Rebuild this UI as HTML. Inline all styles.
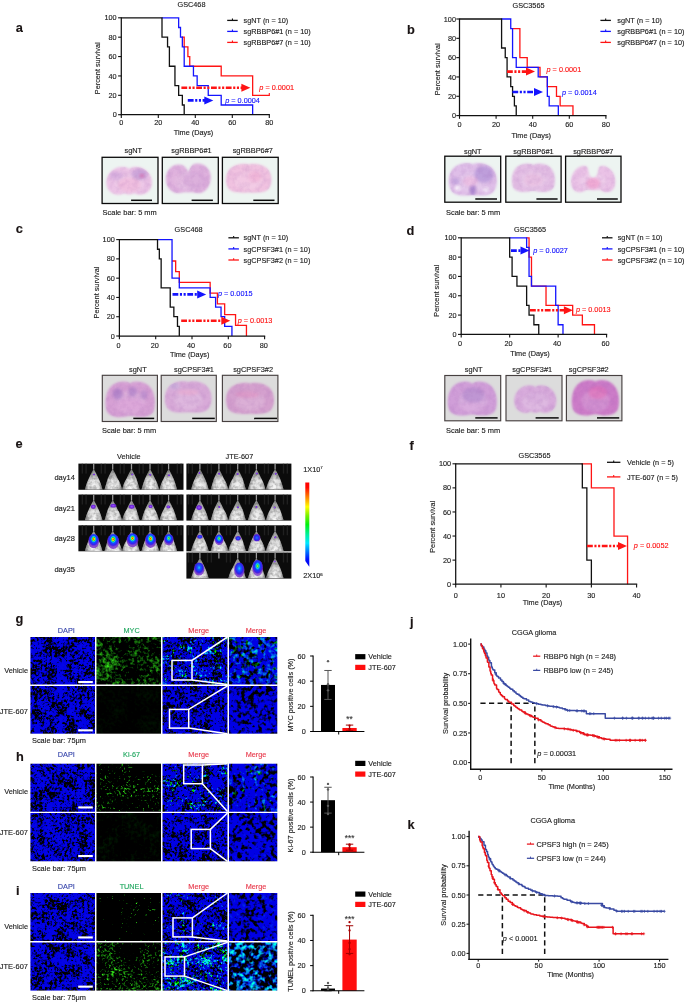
<!DOCTYPE html>
<html lang="en"><head><meta charset="utf-8"><title>Figure</title>
<style>
html,body{margin:0;padding:0;background:#fff;}
body{width:685px;height:1004px;overflow:hidden;}
svg{display:block;font-family:"Liberation Sans", sans-serif;}
text{stroke-width:0.13px;}
</style></head><body>
<svg width="685" height="1004" viewBox="0 0 685 1004">
<defs>
<filter id="bblur" x="-10%" y="-10%" width="120%" height="120%"><feGaussianBlur stdDeviation="0.8"/></filter>
<filter id="bblur2" x="-30%" y="-30%" width="160%" height="160%"><feGaussianBlur stdDeviation="1.4"/></filter>
<filter id="btex" x="0" y="0" width="1" height="1" color-interpolation-filters="sRGB">
 <feTurbulence type="fractalNoise" baseFrequency="0.18" numOctaves="3" seed="4"/>
 <feColorMatrix type="matrix" values="0 0 0 0 0.55  0 0 0 0 0.3  0 0 0 0 0.65  1.6 0 0 0 -0.62" result="t"/>
 <feComposite in="t" in2="SourceGraphic" operator="in"/>
</filter>
<clipPath id="bc1"><path d="M129.20,169.20 C130.13,166.25 139.66,165.07 146.40,170.38 C152.45,175.10 153.84,184.69 149.66,190.15 C146.40,194.57 138.96,195.75 135.24,193.69 C132.92,192.50 131.06,195.46 129.20,194.28 C127.34,195.46 125.48,192.50 123.15,193.69 C119.43,195.75 111.99,194.57 108.74,190.15 C104.55,184.69 105.95,175.10 111.99,170.38 C118.74,165.07 128.27,166.25 129.20,169.20Z"/></clipPath>
<clipPath id="bc2"><path d="M188.30,172.22 C189.65,169.48 190.55,163.70 196.85,163.40 C205.85,163.10 211.25,170.24 210.80,177.84 C210.35,185.44 207.43,190.76 201.80,192.74 C197.30,194.10 192.80,191.67 188.30,192.58 C183.80,191.67 179.30,194.10 174.80,192.74 C169.18,190.76 166.25,186.20 165.80,179.36 C165.35,172.52 170.30,164.62 178.85,164.62 C185.15,164.62 186.95,169.48 188.30,172.22Z"/></clipPath>
<clipPath id="bc3"><path d="M248.70,164.50 C249.86,163.60 260.30,162.70 266.80,168.10 C272.36,172.90 273.06,183.10 268.65,189.10 C264.94,193.30 255.66,192.85 248.70,192.40 C241.74,192.85 232.46,193.30 228.75,189.10 C224.34,183.10 225.04,172.90 230.60,168.10 C237.10,162.70 247.54,163.60 248.70,164.50Z"/></clipPath>
<clipPath id="bc4"><path d="M472.80,164.30 C474.03,162.60 485.05,161.58 491.91,167.70 C497.79,173.14 498.53,184.70 493.87,191.50 C489.95,196.26 480.15,195.75 472.80,195.24 C465.45,195.75 455.65,196.26 451.73,191.50 C447.07,184.70 447.81,173.14 453.69,167.70 C460.55,161.58 471.57,162.60 472.80,164.30Z"/></clipPath>
<clipPath id="bc5"><path d="M533.40,165.12 C534.49,163.05 543.19,162.17 549.06,166.30 C554.72,170.43 556.02,179.28 554.28,185.91 C552.98,191.08 546.45,192.26 539.92,191.81 C536.66,191.52 535.14,190.49 533.40,191.08 C531.66,190.49 530.14,191.52 526.88,191.81 C520.35,192.26 513.82,191.08 512.52,185.91 C510.78,179.28 512.08,170.43 517.74,166.30 C523.61,162.17 532.31,163.05 533.40,165.12Z"/></clipPath>
<clipPath id="bc6"><path d="M593.20,177.55 C597.70,177.55 597.70,171.64 598.60,167.92 C599.95,164.35 607.15,165.45 611.65,170.67 C615.70,175.07 616.83,184.01 613.45,189.10 C610.75,192.95 604.45,192.95 601.75,190.75 C599.95,189.38 595.90,190.75 593.20,190.20 C590.50,190.75 586.45,189.38 584.65,190.75 C581.95,192.95 575.65,192.95 572.95,189.10 C569.58,184.01 570.70,175.07 574.75,170.67 C579.25,165.45 586.45,164.35 587.80,167.92 C588.70,171.64 588.70,177.55 593.20,177.55Z"/></clipPath>
<clipPath id="bc7"><path d="M130.20,383.59 C131.44,381.00 141.41,379.89 148.13,385.07 C154.60,390.25 156.10,401.35 154.10,409.68 C152.61,416.15 145.14,417.63 137.67,417.07 C133.94,416.70 132.19,415.41 130.20,416.15 C128.21,415.41 126.46,416.70 122.73,417.07 C115.26,417.63 107.79,416.15 106.30,409.68 C104.30,401.35 105.80,390.25 112.27,385.07 C118.99,379.89 128.95,381.00 130.20,383.59Z"/></clipPath>
<clipPath id="bc8"><path d="M188.20,382.30 C189.39,381.00 200.10,380.02 206.76,385.89 C212.48,391.11 213.19,402.19 208.67,408.71 C204.86,413.27 195.34,412.79 188.20,412.30 C181.06,412.79 171.54,413.27 167.73,408.71 C163.21,402.19 163.92,391.11 169.64,385.89 C176.30,380.02 187.01,381.00 188.20,382.30Z"/></clipPath>
<clipPath id="bc9"><path d="M250.00,383.38 C251.22,382.40 262.23,381.42 269.07,387.29 C274.94,392.51 275.67,403.59 271.03,410.11 C267.12,414.67 257.33,414.19 250.00,413.70 C242.66,414.19 232.88,414.67 228.97,410.11 C224.33,403.59 225.06,392.51 230.93,387.29 C237.78,381.42 248.78,382.40 250.00,383.38Z"/></clipPath>
<clipPath id="bc10"><path d="M472.30,383.83 C473.54,381.00 483.42,379.94 490.08,384.89 C496.51,389.85 497.99,400.47 496.01,408.44 C494.53,414.63 487.12,416.05 479.71,415.51 C476.00,415.16 474.28,413.92 472.30,414.63 C470.32,413.92 468.60,415.16 464.89,415.51 C457.48,416.05 450.07,414.63 448.59,408.44 C446.61,400.47 448.09,389.85 454.52,384.89 C461.19,379.94 471.06,381.00 472.30,383.83Z"/></clipPath>
<clipPath id="bc11"><path d="M535.30,387.32 C536.16,385.00 544.97,383.84 551.21,389.06 C556.80,393.70 558.09,403.12 554.22,408.49 C551.21,412.84 544.33,414.00 540.89,411.97 C538.74,410.81 537.02,413.71 535.30,412.55 C533.58,413.71 531.86,410.81 529.71,411.97 C526.27,414.00 519.39,412.84 516.38,408.49 C512.51,403.12 513.80,393.70 519.39,389.06 C525.62,383.84 534.44,385.00 535.30,387.32Z"/></clipPath>
<clipPath id="bc12"><path d="M595.40,381.85 C596.59,379.65 606.09,378.55 612.50,383.69 C618.67,388.82 620.10,399.83 618.20,408.09 C616.77,414.51 609.65,415.98 602.52,415.43 C598.96,415.07 597.30,413.78 595.40,414.51 C593.50,413.78 591.84,415.07 588.27,415.43 C581.15,415.98 574.02,414.51 572.60,408.09 C570.70,399.83 572.12,388.82 578.30,383.69 C584.71,378.55 594.21,379.65 595.40,381.85Z"/></clipPath>
<filter id="mblur" x="-20%" y="-20%" width="140%" height="140%"><feGaussianBlur stdDeviation="0.5"/></filter>
<filter id="sblur" x="-30%" y="-30%" width="160%" height="160%"><feGaussianBlur stdDeviation="0.5"/></filter>
<filter id="mtex" x="0" y="0" width="1" height="1" color-interpolation-filters="sRGB">
 <feTurbulence type="fractalNoise" baseFrequency="0.3" numOctaves="2" seed="7"/>
 <feColorMatrix type="matrix" values="0 0 0 0 0  0 0 0 0 0  0 0 0 0 0  2.6 0 0 0 -1.0" result="t"/>
 <feComposite in="t" in2="SourceGraphic" operator="in"/>
</filter>
<linearGradient id="mg" x1="0" y1="0" x2="0" y2="1">
 <stop offset="0" stop-color="#868686"/><stop offset="0.3" stop-color="#b4b4b4"/><stop offset="0.55" stop-color="#ececec"/><stop offset="1" stop-color="#fbfbfb"/>
</linearGradient>
<linearGradient id="mg2" x1="0" y1="0" x2="1" y2="0">
 <stop offset="0" stop-color="#000" stop-opacity="0.5"/><stop offset="0.22" stop-color="#000" stop-opacity="0.1"/><stop offset="0.5" stop-color="#000" stop-opacity="0"/><stop offset="0.8" stop-color="#000" stop-opacity="0.1"/><stop offset="1" stop-color="#000" stop-opacity="0.5"/>
</linearGradient>
<radialGradient id="sigP"><stop offset="0" stop-color="#9a50ff"/><stop offset="0.7" stop-color="#6a22d8"/><stop offset="1" stop-color="#5a1cc0" stop-opacity="0.6"/></radialGradient>
<radialGradient id="sigB"><stop offset="0" stop-color="#2a6cff"/><stop offset="0.55" stop-color="#2030f0"/><stop offset="0.85" stop-color="#5a20d8"/><stop offset="1" stop-color="#6a22c8" stop-opacity="0.7"/></radialGradient>
<radialGradient id="sigR" cx="0.5" cy="0.36"><stop offset="0" stop-color="#ff2a00"/><stop offset="0.1" stop-color="#ff9000"/><stop offset="0.17" stop-color="#e8e000"/><stop offset="0.26" stop-color="#30e030"/><stop offset="0.36" stop-color="#10c8f0"/><stop offset="0.5" stop-color="#1050ff"/><stop offset="0.78" stop-color="#3a20f0"/><stop offset="1" stop-color="#7028c8" stop-opacity="0.8"/></radialGradient>
<radialGradient id="sigG" cx="0.5" cy="0.38"><stop offset="0" stop-color="#d8f020"/><stop offset="0.14" stop-color="#30e040"/><stop offset="0.3" stop-color="#10c8f0"/><stop offset="0.5" stop-color="#1040ff"/><stop offset="0.85" stop-color="#4a20e0"/><stop offset="1" stop-color="#7028c8" stop-opacity="0.75"/></radialGradient>
<radialGradient id="sigC" cx="0.5" cy="0.4"><stop offset="0" stop-color="#20d0f0"/><stop offset="0.3" stop-color="#1060ff"/><stop offset="0.7" stop-color="#3020e8"/><stop offset="1" stop-color="#7028c8" stop-opacity="0.8"/></radialGradient>
<linearGradient id="cbar" x1="0" y1="0" x2="0" y2="1">
 <stop offset="0" stop-color="#ff0000"/><stop offset="0.06" stop-color="#ff0800"/><stop offset="0.18" stop-color="#ff8800"/><stop offset="0.29" stop-color="#ffff00"/><stop offset="0.4" stop-color="#70f000"/><stop offset="0.5" stop-color="#00f010"/><stop offset="0.62" stop-color="#00f0a0"/><stop offset="0.72" stop-color="#00e8ff"/><stop offset="0.82" stop-color="#0078ff"/><stop offset="0.91" stop-color="#0010ff"/><stop offset="1" stop-color="#0000e8"/>
</linearGradient>
<clipPath id="mr1"><rect x="78.40" y="463.60" width="105.10" height="26.20"/></clipPath>
<clipPath id="mr2"><rect x="186.40" y="463.60" width="105.00" height="26.20"/></clipPath>
<clipPath id="mr3"><rect x="78.40" y="494.50" width="105.10" height="26.10"/></clipPath>
<clipPath id="mr4"><rect x="186.40" y="494.50" width="105.00" height="26.10"/></clipPath>
<clipPath id="mr5"><rect x="78.40" y="525.30" width="105.10" height="26.00"/></clipPath>
<clipPath id="mr6"><rect x="186.40" y="525.30" width="105.00" height="26.00"/></clipPath>
<clipPath id="mr7"><rect x="186.40" y="552.50" width="105.00" height="26.10"/></clipPath>
<filter id="fl1" x="0" y="0" width="1" height="1" color-interpolation-filters="sRGB">
<feTurbulence type="fractalNoise" baseFrequency="0.32" numOctaves="2" seed="101"/><feColorMatrix type="matrix" values="1 0 0 0 0 0 1 0 0 0 0 0 1 0 0 0 0 0 0 1" result="n"/>
<feTurbulence type="fractalNoise" baseFrequency="0.05" numOctaves="2" seed="151"/><feColorMatrix type="matrix" values="1 0 0 0 0 0 1 0 0 0 0 0 1 0 0 0 0 0 0 1" result="m"/>
<feComposite in="n" in2="m" operator="arithmetic" k1="0" k2="1" k3="0.8" k4="-0.4" result="c"/>
<feColorMatrix in="c" type="matrix" values="0 0.4 0 0 -0.19499999999999998  0 1.6 0 0 -0.7  0 0.192 0 0 -0.08399999999999999  0 0 0 0 1"/><feComponentTransfer><feFuncB type="linear" slope="0.9"/></feComponentTransfer></filter>
<filter id="fl2" x="0" y="0" width="1" height="1" color-interpolation-filters="sRGB">
<feTurbulence type="fractalNoise" baseFrequency="0.32" numOctaves="2" seed="102"/><feColorMatrix type="matrix" values="1 0 0 0 0 0 1 0 0 0 0 0 1 0 0 0 0 0 0 1" result="n"/>
<feTurbulence type="fractalNoise" baseFrequency="0.05" numOctaves="2" seed="152"/><feColorMatrix type="matrix" values="1 0 0 0 0 0 1 0 0 0 0 0 1 0 0 0 0 0 0 1" result="m"/>
<feComposite in="n" in2="m" operator="arithmetic" k1="0" k2="1" k3="0.8" k4="-0.4" result="c"/>
<feColorMatrix in="c" type="matrix" values="0 0.03 0 0 -0.0325  0 0.12 0 0 -0.05  0 0.0144 0 0 -0.006  0 0 0 0 1"/><feComponentTransfer><feFuncB type="linear" slope="0.9"/></feComponentTransfer></filter>
<filter id="fl3" x="0" y="0" width="1" height="1" color-interpolation-filters="sRGB">
<feTurbulence type="fractalNoise" baseFrequency="0.4" numOctaves="2" seed="103"/><feColorMatrix type="matrix" values="1 0 0 0 0 0 1 0 0 0 0 0 1 0 0 0 0 0 0 1" result="n"/>
<feTurbulence type="fractalNoise" baseFrequency="0.09" numOctaves="2" seed="153"/><feColorMatrix type="matrix" values="1 0 0 0 0 0 1 0 0 0 0 0 1 0 0 0 0 0 0 1" result="m"/>
<feComposite in="n" in2="m" operator="arithmetic" k1="0" k2="1" k3="0.7" k4="-0.35" result="c"/>
<feColorMatrix in="c" type="matrix" values="0 0 0 0 0  0.15 3.2 0 0 -1.97  4.5 0 0 0 -1.45  0 0 0 0 1"/><feComponentTransfer><feFuncB type="linear" slope="0.9"/></feComponentTransfer></filter>
<filter id="fl4" x="0" y="0" width="1" height="1" color-interpolation-filters="sRGB">
<feTurbulence type="fractalNoise" baseFrequency="0.4" numOctaves="2" seed="104"/><feColorMatrix type="matrix" values="1 0 0 0 0 0 1 0 0 0 0 0 1 0 0 0 0 0 0 1" result="n"/>
<feTurbulence type="fractalNoise" baseFrequency="0.09" numOctaves="2" seed="154"/><feColorMatrix type="matrix" values="1 0 0 0 0 0 1 0 0 0 0 0 1 0 0 0 0 0 0 1" result="m"/>
<feComposite in="n" in2="m" operator="arithmetic" k1="0" k2="1" k3="0.7" k4="-0.35" result="c"/>
<feColorMatrix in="c" type="matrix" values="0 0 0 0 0  0.15 0.2 0 0 -0.27  4.5 0 0 0 -1.45  0 0 0 0 1"/><feComponentTransfer><feFuncB type="linear" slope="0.9"/></feComponentTransfer></filter>
<filter id="fl5" x="0" y="0" width="1" height="1" color-interpolation-filters="sRGB">
<feTurbulence type="fractalNoise" baseFrequency="0.24" numOctaves="2" seed="105"/><feColorMatrix type="matrix" values="1 0 0 0 0 0 1 0 0 0 0 0 1 0 0 0 0 0 0 1" result="n"/>
<feTurbulence type="fractalNoise" baseFrequency="0.05" numOctaves="2" seed="155"/><feColorMatrix type="matrix" values="1 0 0 0 0 0 1 0 0 0 0 0 1 0 0 0 0 0 0 1" result="m"/>
<feComposite in="n" in2="m" operator="arithmetic" k1="0" k2="1" k3="0.4" k4="-0.2" result="c"/>
<feColorMatrix in="c" type="matrix" values="0 0 0 0 0  0.3 2.2 0 0 -1.29  4.6 0 0 0 -1.38  0 0 0 0 1"/><feComponentTransfer><feFuncB type="linear" slope="0.9"/></feComponentTransfer></filter>
<filter id="fl6" x="0" y="0" width="1" height="1" color-interpolation-filters="sRGB">
<feTurbulence type="fractalNoise" baseFrequency="0.24" numOctaves="2" seed="106"/><feColorMatrix type="matrix" values="1 0 0 0 0 0 1 0 0 0 0 0 1 0 0 0 0 0 0 1" result="n"/>
<feTurbulence type="fractalNoise" baseFrequency="0.05" numOctaves="2" seed="156"/><feColorMatrix type="matrix" values="1 0 0 0 0 0 1 0 0 0 0 0 1 0 0 0 0 0 0 1" result="m"/>
<feComposite in="n" in2="m" operator="arithmetic" k1="0" k2="1" k3="0.4" k4="-0.2" result="c"/>
<feColorMatrix in="c" type="matrix" values="0 0 0 0 0  0.3 0.2 0 0 -0.34  4.6 0 0 0 -1.38  0 0 0 0 1"/><feComponentTransfer><feFuncB type="linear" slope="0.9"/></feComponentTransfer></filter>
<filter id="fl7" x="0" y="0" width="1" height="1" color-interpolation-filters="sRGB">
<feTurbulence type="fractalNoise" baseFrequency="0.4" numOctaves="2" seed="200"/><feColorMatrix type="matrix" values="1 0 0 0 0 0 1 0 0 0 0 0 1 0 0 0 0 0 0 1" result="n"/>
<feTurbulence type="fractalNoise" baseFrequency="0.09" numOctaves="2" seed="250"/><feColorMatrix type="matrix" values="1 0 0 0 0 0 1 0 0 0 0 0 1 0 0 0 0 0 0 1" result="m"/>
<feComposite in="n" in2="m" operator="arithmetic" k1="0" k2="1" k3="0.7" k4="-0.35" result="c"/>
<feColorMatrix in="c" type="matrix" values="0.06 0 0 0 -0.03  0.06 0 0 0 -0.03  4.5 0 0 0 -1.45  0 0 0 0 1"/><feComponentTransfer><feFuncB type="linear" slope="0.9"/></feComponentTransfer></filter>
<filter id="fl8" x="0" y="0" width="1" height="1" color-interpolation-filters="sRGB">
<feTurbulence type="fractalNoise" baseFrequency="0.4" numOctaves="2" seed="201"/><feColorMatrix type="matrix" values="1 0 0 0 0 0 1 0 0 0 0 0 1 0 0 0 0 0 0 1" result="n"/>
<feTurbulence type="fractalNoise" baseFrequency="0.09" numOctaves="2" seed="251"/><feColorMatrix type="matrix" values="1 0 0 0 0 0 1 0 0 0 0 0 1 0 0 0 0 0 0 1" result="m"/>
<feComposite in="n" in2="m" operator="arithmetic" k1="0" k2="1" k3="0.7" k4="-0.35" result="c"/>
<feColorMatrix in="c" type="matrix" values="0.06 0 0 0 -0.03  0.06 0 0 0 -0.03  4.5 0 0 0 -1.45  0 0 0 0 1"/><feComponentTransfer><feFuncB type="linear" slope="0.9"/></feComponentTransfer></filter>
<filter id="fl9" x="0" y="0" width="1" height="1" color-interpolation-filters="sRGB">
<feTurbulence type="fractalNoise" baseFrequency="0.42" numOctaves="2" seed="111"/><feColorMatrix type="matrix" values="1 0 0 0 0 0 1 0 0 0 0 0 1 0 0 0 0 0 0 1" result="n"/>
<feTurbulence type="fractalNoise" baseFrequency="0.05" numOctaves="2" seed="161"/><feColorMatrix type="matrix" values="1 0 0 0 0 0 1 0 0 0 0 0 1 0 0 0 0 0 0 1" result="m"/>
<feComposite in="n" in2="m" operator="arithmetic" k1="0" k2="1" k3="0.5" k4="-0.25" result="c"/>
<feColorMatrix in="c" type="matrix" values="0 0.75 0 0 -0.495  0 3.0 0 0 -1.9  0 0.36 0 0 -0.22799999999999998  0 0 0 0 1"/><feComponentTransfer><feFuncB type="linear" slope="0.9"/></feComponentTransfer></filter>
<filter id="fl10" x="0" y="0" width="1" height="1" color-interpolation-filters="sRGB">
<feTurbulence type="fractalNoise" baseFrequency="0.32" numOctaves="2" seed="112"/><feColorMatrix type="matrix" values="1 0 0 0 0 0 1 0 0 0 0 0 1 0 0 0 0 0 0 1" result="n"/>
<feTurbulence type="fractalNoise" baseFrequency="0.05" numOctaves="2" seed="162"/><feColorMatrix type="matrix" values="1 0 0 0 0 0 1 0 0 0 0 0 1 0 0 0 0 0 0 1" result="m"/>
<feComposite in="n" in2="m" operator="arithmetic" k1="0" k2="1" k3="0.8" k4="-0.4" result="c"/>
<feColorMatrix in="c" type="matrix" values="0 0.05 0 0 -0.045  0 0.2 0 0 -0.1  0 0.024 0 0 -0.012  0 0 0 0 1"/><feComponentTransfer><feFuncB type="linear" slope="0.9"/></feComponentTransfer></filter>
<filter id="fl11" x="0" y="0" width="1" height="1" color-interpolation-filters="sRGB">
<feTurbulence type="fractalNoise" baseFrequency="0.4" numOctaves="2" seed="113"/><feColorMatrix type="matrix" values="1 0 0 0 0 0 1 0 0 0 0 0 1 0 0 0 0 0 0 1" result="n"/>
<feTurbulence type="fractalNoise" baseFrequency="0.09" numOctaves="2" seed="163"/><feColorMatrix type="matrix" values="1 0 0 0 0 0 1 0 0 0 0 0 1 0 0 0 0 0 0 1" result="m"/>
<feComposite in="n" in2="m" operator="arithmetic" k1="0" k2="1" k3="0.7" k4="-0.35" result="c"/>
<feColorMatrix in="c" type="matrix" values="0 0 0 0 0  0.15 3.5 0 0 -2.32  4.5 0 0 0 -1.45  0 0 0 0 1"/><feComponentTransfer><feFuncB type="linear" slope="0.9"/></feComponentTransfer></filter>
<filter id="fl12" x="0" y="0" width="1" height="1" color-interpolation-filters="sRGB">
<feTurbulence type="fractalNoise" baseFrequency="0.4" numOctaves="2" seed="114"/><feColorMatrix type="matrix" values="1 0 0 0 0 0 1 0 0 0 0 0 1 0 0 0 0 0 0 1" result="n"/>
<feTurbulence type="fractalNoise" baseFrequency="0.09" numOctaves="2" seed="164"/><feColorMatrix type="matrix" values="1 0 0 0 0 0 1 0 0 0 0 0 1 0 0 0 0 0 0 1" result="m"/>
<feComposite in="n" in2="m" operator="arithmetic" k1="0" k2="1" k3="0.7" k4="-0.35" result="c"/>
<feColorMatrix in="c" type="matrix" values="0 0 0 0 0  0.15 0.2 0 0 -0.27  4.5 0 0 0 -1.45  0 0 0 0 1"/><feComponentTransfer><feFuncB type="linear" slope="0.9"/></feComponentTransfer></filter>
<filter id="fl13" x="0" y="0" width="1" height="1" color-interpolation-filters="sRGB">
<feTurbulence type="fractalNoise" baseFrequency="0.24" numOctaves="2" seed="115"/><feColorMatrix type="matrix" values="1 0 0 0 0 0 1 0 0 0 0 0 1 0 0 0 0 0 0 1" result="n"/>
<feTurbulence type="fractalNoise" baseFrequency="0.05" numOctaves="2" seed="165"/><feColorMatrix type="matrix" values="1 0 0 0 0 0 1 0 0 0 0 0 1 0 0 0 0 0 0 1" result="m"/>
<feComposite in="n" in2="m" operator="arithmetic" k1="0" k2="1" k3="0.4" k4="-0.2" result="c"/>
<feColorMatrix in="c" type="matrix" values="0 0 0 0 0  0.3 2.4 0 0 -1.5899999999999999  4.6 0 0 0 -1.38  0 0 0 0 1"/><feComponentTransfer><feFuncB type="linear" slope="0.9"/></feComponentTransfer></filter>
<filter id="fl14" x="0" y="0" width="1" height="1" color-interpolation-filters="sRGB">
<feTurbulence type="fractalNoise" baseFrequency="0.24" numOctaves="2" seed="116"/><feColorMatrix type="matrix" values="1 0 0 0 0 0 1 0 0 0 0 0 1 0 0 0 0 0 0 1" result="n"/>
<feTurbulence type="fractalNoise" baseFrequency="0.05" numOctaves="2" seed="166"/><feColorMatrix type="matrix" values="1 0 0 0 0 0 1 0 0 0 0 0 1 0 0 0 0 0 0 1" result="m"/>
<feComposite in="n" in2="m" operator="arithmetic" k1="0" k2="1" k3="0.4" k4="-0.2" result="c"/>
<feColorMatrix in="c" type="matrix" values="0 0 0 0 0  0.3 0.4 0 0 -0.44  4.6 0 0 0 -1.38  0 0 0 0 1"/><feComponentTransfer><feFuncB type="linear" slope="0.9"/></feComponentTransfer></filter>
<filter id="fl15" x="0" y="0" width="1" height="1" color-interpolation-filters="sRGB">
<feTurbulence type="fractalNoise" baseFrequency="0.4" numOctaves="2" seed="210"/><feColorMatrix type="matrix" values="1 0 0 0 0 0 1 0 0 0 0 0 1 0 0 0 0 0 0 1" result="n"/>
<feTurbulence type="fractalNoise" baseFrequency="0.09" numOctaves="2" seed="260"/><feColorMatrix type="matrix" values="1 0 0 0 0 0 1 0 0 0 0 0 1 0 0 0 0 0 0 1" result="m"/>
<feComposite in="n" in2="m" operator="arithmetic" k1="0" k2="1" k3="0.7" k4="-0.35" result="c"/>
<feColorMatrix in="c" type="matrix" values="0.06 0 0 0 -0.03  0.06 0 0 0 -0.03  4.5 0 0 0 -1.45  0 0 0 0 1"/><feComponentTransfer><feFuncB type="linear" slope="0.9"/></feComponentTransfer></filter>
<filter id="fl16" x="0" y="0" width="1" height="1" color-interpolation-filters="sRGB">
<feTurbulence type="fractalNoise" baseFrequency="0.4" numOctaves="2" seed="211"/><feColorMatrix type="matrix" values="1 0 0 0 0 0 1 0 0 0 0 0 1 0 0 0 0 0 0 1" result="n"/>
<feTurbulence type="fractalNoise" baseFrequency="0.09" numOctaves="2" seed="261"/><feColorMatrix type="matrix" values="1 0 0 0 0 0 1 0 0 0 0 0 1 0 0 0 0 0 0 1" result="m"/>
<feComposite in="n" in2="m" operator="arithmetic" k1="0" k2="1" k3="0.7" k4="-0.35" result="c"/>
<feColorMatrix in="c" type="matrix" values="0.06 0 0 0 -0.03  0.06 0 0 0 -0.03  4.5 0 0 0 -1.45  0 0 0 0 1"/><feComponentTransfer><feFuncB type="linear" slope="0.9"/></feComponentTransfer></filter>
<filter id="fl17" x="0" y="0" width="1" height="1" color-interpolation-filters="sRGB">
<feTurbulence type="fractalNoise" baseFrequency="0.42" numOctaves="2" seed="121"/><feColorMatrix type="matrix" values="1 0 0 0 0 0 1 0 0 0 0 0 1 0 0 0 0 0 0 1" result="n"/>
<feTurbulence type="fractalNoise" baseFrequency="0.05" numOctaves="2" seed="171"/><feColorMatrix type="matrix" values="1 0 0 0 0 0 1 0 0 0 0 0 1 0 0 0 0 0 0 1" result="m"/>
<feComposite in="n" in2="m" operator="arithmetic" k1="0" k2="1" k3="0.3" k4="-0.15" result="c"/>
<feColorMatrix in="c" type="matrix" values="0 1.25 0 0 -0.925  0 5.0 0 0 -3.62  0 0.6 0 0 -0.4344  0 0 0 0 1"/><feComponentTransfer><feFuncB type="linear" slope="0.9"/></feComponentTransfer></filter>
<filter id="fl18" x="0" y="0" width="1" height="1" color-interpolation-filters="sRGB">
<feTurbulence type="fractalNoise" baseFrequency="0.42" numOctaves="2" seed="122"/><feColorMatrix type="matrix" values="1 0 0 0 0 0 1 0 0 0 0 0 1 0 0 0 0 0 0 1" result="n"/>
<feTurbulence type="fractalNoise" baseFrequency="0.05" numOctaves="2" seed="172"/><feColorMatrix type="matrix" values="1 0 0 0 0 0 1 0 0 0 0 0 1 0 0 0 0 0 0 1" result="m"/>
<feComposite in="n" in2="m" operator="arithmetic" k1="0" k2="1" k3="0.6" k4="-0.3" result="c"/>
<feColorMatrix in="c" type="matrix" values="0 0.6 0 0 -0.34500000000000003  0 2.4 0 0 -1.3  0 0.288 0 0 -0.156  0 0 0 0 1"/><feComponentTransfer><feFuncB type="linear" slope="0.9"/></feComponentTransfer></filter>
<filter id="fl19" x="0" y="0" width="1" height="1" color-interpolation-filters="sRGB">
<feTurbulence type="fractalNoise" baseFrequency="0.4" numOctaves="2" seed="123"/><feColorMatrix type="matrix" values="1 0 0 0 0 0 1 0 0 0 0 0 1 0 0 0 0 0 0 1" result="n"/>
<feTurbulence type="fractalNoise" baseFrequency="0.09" numOctaves="2" seed="173"/><feColorMatrix type="matrix" values="1 0 0 0 0 0 1 0 0 0 0 0 1 0 0 0 0 0 0 1" result="m"/>
<feComposite in="n" in2="m" operator="arithmetic" k1="0" k2="1" k3="0.7" k4="-0.35" result="c"/>
<feColorMatrix in="c" type="matrix" values="0 0 0 0 0  0.15 3.5 0 0 -2.52  4.5 0 0 0 -1.45  0 0 0 0 1"/><feComponentTransfer><feFuncB type="linear" slope="0.9"/></feComponentTransfer></filter>
<filter id="fl20" x="0" y="0" width="1" height="1" color-interpolation-filters="sRGB">
<feTurbulence type="fractalNoise" baseFrequency="0.4" numOctaves="2" seed="124"/><feColorMatrix type="matrix" values="1 0 0 0 0 0 1 0 0 0 0 0 1 0 0 0 0 0 0 1" result="n"/>
<feTurbulence type="fractalNoise" baseFrequency="0.09" numOctaves="2" seed="174"/><feColorMatrix type="matrix" values="1 0 0 0 0 0 1 0 0 0 0 0 1 0 0 0 0 0 0 1" result="m"/>
<feComposite in="n" in2="m" operator="arithmetic" k1="0" k2="1" k3="0.7" k4="-0.35" result="c"/>
<feColorMatrix in="c" type="matrix" values="0 0 0 0 0  0.15 3.6 0 0 -2.02  4.5 0 0 0 -1.45  0 0 0 0 1"/><feComponentTransfer><feFuncB type="linear" slope="0.9"/></feComponentTransfer></filter>
<filter id="fl21" x="0" y="0" width="1" height="1" color-interpolation-filters="sRGB">
<feTurbulence type="fractalNoise" baseFrequency="0.24" numOctaves="2" seed="125"/><feColorMatrix type="matrix" values="1 0 0 0 0 0 1 0 0 0 0 0 1 0 0 0 0 0 0 1" result="n"/>
<feTurbulence type="fractalNoise" baseFrequency="0.05" numOctaves="2" seed="175"/><feColorMatrix type="matrix" values="1 0 0 0 0 0 1 0 0 0 0 0 1 0 0 0 0 0 0 1" result="m"/>
<feComposite in="n" in2="m" operator="arithmetic" k1="0" k2="1" k3="0.4" k4="-0.2" result="c"/>
<feColorMatrix in="c" type="matrix" values="0 0 0 0 0  0.3 0.6 0 0 -0.54  4.6 0 0 0 -1.38  0 0 0 0 1"/><feComponentTransfer><feFuncB type="linear" slope="0.9"/></feComponentTransfer></filter>
<filter id="fl22" x="0" y="0" width="1" height="1" color-interpolation-filters="sRGB">
<feTurbulence type="fractalNoise" baseFrequency="0.22" numOctaves="2" seed="126"/><feColorMatrix type="matrix" values="1 0 0 0 0 0 1 0 0 0 0 0 1 0 0 0 0 0 0 1" result="n"/>
<feTurbulence type="fractalNoise" baseFrequency="0.05" numOctaves="2" seed="176"/><feColorMatrix type="matrix" values="1 0 0 0 0 0 1 0 0 0 0 0 1 0 0 0 0 0 0 1" result="m"/>
<feComposite in="n" in2="m" operator="arithmetic" k1="0" k2="1" k3="0.4" k4="-0.2" result="c"/>
<feColorMatrix in="c" type="matrix" values="0 0 0 0 0  3.0 1.2 0 0 -2.02  4.6 0 0 0 -1.75  0 0 0 0 1"/><feComponentTransfer><feFuncB type="linear" slope="0.9"/></feComponentTransfer></filter>
<filter id="fl23" x="0" y="0" width="1" height="1" color-interpolation-filters="sRGB">
<feTurbulence type="fractalNoise" baseFrequency="0.4" numOctaves="2" seed="220"/><feColorMatrix type="matrix" values="1 0 0 0 0 0 1 0 0 0 0 0 1 0 0 0 0 0 0 1" result="n"/>
<feTurbulence type="fractalNoise" baseFrequency="0.09" numOctaves="2" seed="270"/><feColorMatrix type="matrix" values="1 0 0 0 0 0 1 0 0 0 0 0 1 0 0 0 0 0 0 1" result="m"/>
<feComposite in="n" in2="m" operator="arithmetic" k1="0" k2="1" k3="0.7" k4="-0.35" result="c"/>
<feColorMatrix in="c" type="matrix" values="0.06 0 0 0 -0.03  0.06 0 0 0 -0.03  4.5 0 0 0 -1.45  0 0 0 0 1"/><feComponentTransfer><feFuncB type="linear" slope="0.9"/></feComponentTransfer></filter>
<filter id="fl24" x="0" y="0" width="1" height="1" color-interpolation-filters="sRGB">
<feTurbulence type="fractalNoise" baseFrequency="0.4" numOctaves="2" seed="221"/><feColorMatrix type="matrix" values="1 0 0 0 0 0 1 0 0 0 0 0 1 0 0 0 0 0 0 1" result="n"/>
<feTurbulence type="fractalNoise" baseFrequency="0.09" numOctaves="2" seed="271"/><feColorMatrix type="matrix" values="1 0 0 0 0 0 1 0 0 0 0 0 1 0 0 0 0 0 0 1" result="m"/>
<feComposite in="n" in2="m" operator="arithmetic" k1="0" k2="1" k3="0.7" k4="-0.35" result="c"/>
<feColorMatrix in="c" type="matrix" values="0.06 0 0 0 -0.03  0.06 0 0 0 -0.03  4.5 0 0 0 -1.45  0 0 0 0 1"/><feComponentTransfer><feFuncB type="linear" slope="0.9"/></feComponentTransfer></filter>
</defs>
<rect width="685" height="1004" fill="#fff"/>
<text x="15.80" y="32.00" font-size="12.8" font-weight="bold" fill="#1a1414" stroke="#1a1414">a</text>
<path d="M181.80,37.18H184.20V46.87H187.90V56.56H189.75V66.25H221.20V75.94H252.65V95.32H269.30" fill="none" stroke="#ff1414" stroke-width="1.3" stroke-linejoin="miter"/>
<line x1="269.30" y1="93.12" x2="269.30" y2="95.92" stroke="#ff1414" stroke-width="1.1"/>
<path d="M161.63,17.80H178.65V27.49H180.50V37.18H182.35V46.87H184.20V66.25H193.45V75.94H197.15V85.63H208.25V95.32H221.20V105.01H252.65V114.70" fill="none" stroke="#1414ff" stroke-width="1.3" stroke-linejoin="miter"/>
<path d="M121.30,17.80H162.00V37.18H167.55V46.87H169.40V66.25H174.95V85.63H178.65V95.32H182.35V105.01H184.20V114.70" fill="none" stroke="#111" stroke-width="1.3" stroke-linejoin="miter"/>
<line x1="121.30" y1="17.20" x2="121.30" y2="115.30" stroke="#111" stroke-width="1.25"/>
<line x1="120.70" y1="114.70" x2="269.90" y2="114.70" stroke="#111" stroke-width="1.25"/>
<line x1="118.10" y1="114.70" x2="121.30" y2="114.70" stroke="#111" stroke-width="1.1"/>
<text x="116.70" y="117.30" font-size="7.3" text-anchor="end" fill="#1c1c1c" stroke="#1c1c1c">0</text>
<line x1="118.10" y1="95.32" x2="121.30" y2="95.32" stroke="#111" stroke-width="1.1"/>
<text x="116.70" y="97.92" font-size="7.3" text-anchor="end" fill="#1c1c1c" stroke="#1c1c1c">20</text>
<line x1="118.10" y1="75.94" x2="121.30" y2="75.94" stroke="#111" stroke-width="1.1"/>
<text x="116.70" y="78.54" font-size="7.3" text-anchor="end" fill="#1c1c1c" stroke="#1c1c1c">40</text>
<line x1="118.10" y1="56.56" x2="121.30" y2="56.56" stroke="#111" stroke-width="1.1"/>
<text x="116.70" y="59.16" font-size="7.3" text-anchor="end" fill="#1c1c1c" stroke="#1c1c1c">60</text>
<line x1="118.10" y1="37.18" x2="121.30" y2="37.18" stroke="#111" stroke-width="1.1"/>
<text x="116.70" y="39.78" font-size="7.3" text-anchor="end" fill="#1c1c1c" stroke="#1c1c1c">80</text>
<line x1="118.10" y1="17.80" x2="121.30" y2="17.80" stroke="#111" stroke-width="1.1"/>
<text x="116.70" y="20.40" font-size="7.3" text-anchor="end" fill="#1c1c1c" stroke="#1c1c1c">100</text>
<line x1="121.30" y1="114.70" x2="121.30" y2="117.90" stroke="#111" stroke-width="1.1"/>
<text x="121.30" y="124.90" font-size="7.3" text-anchor="middle" fill="#1c1c1c" stroke="#1c1c1c">0</text>
<line x1="158.30" y1="114.70" x2="158.30" y2="117.90" stroke="#111" stroke-width="1.1"/>
<text x="158.30" y="124.90" font-size="7.3" text-anchor="middle" fill="#1c1c1c" stroke="#1c1c1c">20</text>
<line x1="195.30" y1="114.70" x2="195.30" y2="117.90" stroke="#111" stroke-width="1.1"/>
<text x="195.30" y="124.90" font-size="7.3" text-anchor="middle" fill="#1c1c1c" stroke="#1c1c1c">40</text>
<line x1="232.30" y1="114.70" x2="232.30" y2="117.90" stroke="#111" stroke-width="1.1"/>
<text x="232.30" y="124.90" font-size="7.3" text-anchor="middle" fill="#1c1c1c" stroke="#1c1c1c">60</text>
<line x1="269.30" y1="114.70" x2="269.30" y2="117.90" stroke="#111" stroke-width="1.1"/>
<text x="269.30" y="124.90" font-size="7.3" text-anchor="middle" fill="#1c1c1c" stroke="#1c1c1c">80</text>
<text x="191.50" y="6.50" font-size="7.3" text-anchor="middle" fill="#1c1c1c" stroke="#1c1c1c">GSC468</text>
<text x="99.80" y="68.25" font-size="7.3" text-anchor="middle" transform="rotate(-90 99.80 68.25)" fill="#1c1c1c" stroke="#1c1c1c">Percent survival</text>
<text x="193.50" y="134.50" font-size="7.3" text-anchor="middle" fill="#1c1c1c" stroke="#1c1c1c">Time (Days)</text>
<line x1="227.20" y1="20.40" x2="237.70" y2="20.40" stroke="#111" stroke-width="1.3"/>
<line x1="232.45" y1="18.60" x2="232.45" y2="20.40" stroke="#111" stroke-width="1.1"/>
<text x="243.60" y="23.00" font-size="7.3" fill="#1c1c1c" stroke="#1c1c1c">sgNT (n = 10)</text>
<line x1="227.20" y1="31.40" x2="237.70" y2="31.40" stroke="#1414ff" stroke-width="1.3"/>
<line x1="232.45" y1="29.60" x2="232.45" y2="31.40" stroke="#1414ff" stroke-width="1.1"/>
<text x="243.60" y="34.00" font-size="7.3" fill="#1c1c1c" stroke="#1c1c1c">sgRBBP6#1 (n = 10)</text>
<line x1="227.20" y1="42.40" x2="237.70" y2="42.40" stroke="#ff1414" stroke-width="1.3"/>
<line x1="232.45" y1="40.60" x2="232.45" y2="42.40" stroke="#ff1414" stroke-width="1.1"/>
<text x="243.60" y="45.00" font-size="7.3" fill="#1c1c1c" stroke="#1c1c1c">sgRBBP6#7 (n = 10)</text>
<line x1="181.40" y1="87.80" x2="242.40" y2="87.80" stroke="#ff1414" stroke-width="2.6" stroke-dasharray="5.8 1.6 2.1 1.6 2.1 1.6"/>
<path d="M250.40,87.80 L241.40,83.80 L241.40,91.80Z" fill="#ff1414"/>
<text x="259.30" y="90.40" font-size="7.3" fill="#ff1414" stroke="#ff1414"><tspan font-style="italic">p</tspan> = 0.0001</text>
<line x1="187.80" y1="100.40" x2="205.30" y2="100.40" stroke="#1414ff" stroke-width="2.6" stroke-dasharray="5.8 1.6 2.1 1.6 2.1 1.6"/>
<path d="M213.30,100.40 L204.30,96.40 L204.30,104.40Z" fill="#1414ff"/>
<text x="225.20" y="103.20" font-size="7.3" fill="#1414ff" stroke="#1414ff"><tspan font-style="italic">p</tspan> = 0.0004</text>
<text x="406.90" y="34.30" font-size="12.8" font-weight="bold" fill="#1a1414" stroke="#1a1414">b</text>
<path d="M512.02,28.66H519.89V57.64H527.21V67.30H540.02V76.96H547.34V86.62H556.49V96.28H560.15V105.94H572.96V115.60" fill="none" stroke="#ff1414" stroke-width="1.3" stroke-linejoin="miter"/>
<path d="M501.22,19.00H510.74V28.66H512.57V57.64H516.23V67.30H538.19V76.96H547.34V96.28H549.17V105.94H558.32V115.60" fill="none" stroke="#1414ff" stroke-width="1.3" stroke-linejoin="miter"/>
<path d="M459.50,19.00H501.59V47.98H505.25V57.64H507.08V76.96H510.74V86.62H512.57V96.28H514.40V105.94H516.23V115.60" fill="none" stroke="#111" stroke-width="1.3" stroke-linejoin="miter"/>
<line x1="459.50" y1="18.40" x2="459.50" y2="116.20" stroke="#111" stroke-width="1.25"/>
<line x1="458.90" y1="115.60" x2="606.50" y2="115.60" stroke="#111" stroke-width="1.25"/>
<line x1="456.30" y1="115.60" x2="459.50" y2="115.60" stroke="#111" stroke-width="1.1"/>
<text x="456.00" y="118.20" font-size="7.3" text-anchor="end" fill="#1c1c1c" stroke="#1c1c1c">0</text>
<line x1="456.30" y1="96.28" x2="459.50" y2="96.28" stroke="#111" stroke-width="1.1"/>
<text x="456.00" y="98.88" font-size="7.3" text-anchor="end" fill="#1c1c1c" stroke="#1c1c1c">20</text>
<line x1="456.30" y1="76.96" x2="459.50" y2="76.96" stroke="#111" stroke-width="1.1"/>
<text x="456.00" y="79.56" font-size="7.3" text-anchor="end" fill="#1c1c1c" stroke="#1c1c1c">40</text>
<line x1="456.30" y1="57.64" x2="459.50" y2="57.64" stroke="#111" stroke-width="1.1"/>
<text x="456.00" y="60.24" font-size="7.3" text-anchor="end" fill="#1c1c1c" stroke="#1c1c1c">60</text>
<line x1="456.30" y1="38.32" x2="459.50" y2="38.32" stroke="#111" stroke-width="1.1"/>
<text x="456.00" y="40.92" font-size="7.3" text-anchor="end" fill="#1c1c1c" stroke="#1c1c1c">80</text>
<line x1="456.30" y1="19.00" x2="459.50" y2="19.00" stroke="#111" stroke-width="1.1"/>
<text x="456.00" y="21.60" font-size="7.3" text-anchor="end" fill="#1c1c1c" stroke="#1c1c1c">100</text>
<line x1="459.50" y1="115.60" x2="459.50" y2="118.80" stroke="#111" stroke-width="1.1"/>
<text x="459.50" y="127.30" font-size="7.3" text-anchor="middle" fill="#1c1c1c" stroke="#1c1c1c">0</text>
<line x1="496.10" y1="115.60" x2="496.10" y2="118.80" stroke="#111" stroke-width="1.1"/>
<text x="496.10" y="127.30" font-size="7.3" text-anchor="middle" fill="#1c1c1c" stroke="#1c1c1c">20</text>
<line x1="532.70" y1="115.60" x2="532.70" y2="118.80" stroke="#111" stroke-width="1.1"/>
<text x="532.70" y="127.30" font-size="7.3" text-anchor="middle" fill="#1c1c1c" stroke="#1c1c1c">40</text>
<line x1="569.30" y1="115.60" x2="569.30" y2="118.80" stroke="#111" stroke-width="1.1"/>
<text x="569.30" y="127.30" font-size="7.3" text-anchor="middle" fill="#1c1c1c" stroke="#1c1c1c">60</text>
<line x1="605.90" y1="115.60" x2="605.90" y2="118.80" stroke="#111" stroke-width="1.1"/>
<text x="605.90" y="127.30" font-size="7.3" text-anchor="middle" fill="#1c1c1c" stroke="#1c1c1c">80</text>
<text x="528.50" y="7.50" font-size="7.3" text-anchor="middle" fill="#1c1c1c" stroke="#1c1c1c">GSC3565</text>
<text x="439.60" y="69.30" font-size="7.3" text-anchor="middle" transform="rotate(-90 439.60 69.30)" fill="#1c1c1c" stroke="#1c1c1c">Percent survival</text>
<text x="531.30" y="137.50" font-size="7.3" text-anchor="middle" fill="#1c1c1c" stroke="#1c1c1c">Time (Days)</text>
<line x1="600.40" y1="20.40" x2="610.90" y2="20.40" stroke="#111" stroke-width="1.3"/>
<line x1="605.65" y1="18.60" x2="605.65" y2="20.40" stroke="#111" stroke-width="1.1"/>
<text x="617.30" y="23.00" font-size="7.3" fill="#1c1c1c" stroke="#1c1c1c">sgNT (n = 10)</text>
<line x1="600.40" y1="31.40" x2="610.90" y2="31.40" stroke="#1414ff" stroke-width="1.3"/>
<line x1="605.65" y1="29.60" x2="605.65" y2="31.40" stroke="#1414ff" stroke-width="1.1"/>
<text x="617.30" y="34.00" font-size="7.3" fill="#1c1c1c" stroke="#1c1c1c">sgRBBP6#1 (n = 10)</text>
<line x1="600.40" y1="42.40" x2="610.90" y2="42.40" stroke="#ff1414" stroke-width="1.3"/>
<line x1="605.65" y1="40.60" x2="605.65" y2="42.40" stroke="#ff1414" stroke-width="1.1"/>
<text x="617.30" y="45.00" font-size="7.3" fill="#1c1c1c" stroke="#1c1c1c">sgRBBP6#7 (n = 10)</text>
<line x1="507.00" y1="71.60" x2="527.00" y2="71.60" stroke="#ff1414" stroke-width="2.6" stroke-dasharray="5.8 1.6 2.1 1.6 2.1 1.6"/>
<path d="M535.00,71.60 L526.00,67.60 L526.00,75.60Z" fill="#ff1414"/>
<text x="546.50" y="72.20" font-size="7.3" fill="#ff1414" stroke="#ff1414"><tspan font-style="italic">p</tspan> = 0.0001</text>
<line x1="512.40" y1="92.00" x2="535.00" y2="92.00" stroke="#1414ff" stroke-width="2.6" stroke-dasharray="5.8 1.6 2.1 1.6 2.1 1.6"/>
<path d="M543.00,92.00 L534.00,88.00 L534.00,96.00Z" fill="#1414ff"/>
<text x="562.00" y="94.70" font-size="7.3" fill="#1414ff" stroke="#1414ff"><tspan font-style="italic">p</tspan> = 0.0014</text>
<text x="15.80" y="232.80" font-size="12.8" font-weight="bold" fill="#1a1414" stroke="#1a1414">c</text>
<path d="M172.04,261.00H175.67V271.70H179.30V282.40H210.15V293.20H217.41V303.90H224.67V314.60H235.56V325.30H246.45V336.00" fill="none" stroke="#ff1414" stroke-width="1.3" stroke-linejoin="miter"/>
<path d="M157.15,239.60H172.04V278.16H179.30V287.80H210.15V297.44H215.60V307.08H221.04V316.72H224.67V326.36H231.93V336.00" fill="none" stroke="#1414ff" stroke-width="1.3" stroke-linejoin="miter"/>
<path d="M119.40,239.60H157.52V249.24H159.33V258.88H161.15V287.80H170.22V307.08H173.85V316.72H177.48V326.36H179.30V336.00" fill="none" stroke="#111" stroke-width="1.3" stroke-linejoin="miter"/>
<line x1="119.40" y1="239.00" x2="119.40" y2="336.60" stroke="#111" stroke-width="1.25"/>
<line x1="118.80" y1="336.00" x2="265.20" y2="336.00" stroke="#111" stroke-width="1.25"/>
<line x1="116.20" y1="336.00" x2="119.40" y2="336.00" stroke="#111" stroke-width="1.1"/>
<text x="114.80" y="338.60" font-size="7.3" text-anchor="end" fill="#1c1c1c" stroke="#1c1c1c">0</text>
<line x1="116.20" y1="316.72" x2="119.40" y2="316.72" stroke="#111" stroke-width="1.1"/>
<text x="114.80" y="319.32" font-size="7.3" text-anchor="end" fill="#1c1c1c" stroke="#1c1c1c">20</text>
<line x1="116.20" y1="297.44" x2="119.40" y2="297.44" stroke="#111" stroke-width="1.1"/>
<text x="114.80" y="300.04" font-size="7.3" text-anchor="end" fill="#1c1c1c" stroke="#1c1c1c">40</text>
<line x1="116.20" y1="278.16" x2="119.40" y2="278.16" stroke="#111" stroke-width="1.1"/>
<text x="114.80" y="280.76" font-size="7.3" text-anchor="end" fill="#1c1c1c" stroke="#1c1c1c">60</text>
<line x1="116.20" y1="258.88" x2="119.40" y2="258.88" stroke="#111" stroke-width="1.1"/>
<text x="114.80" y="261.48" font-size="7.3" text-anchor="end" fill="#1c1c1c" stroke="#1c1c1c">80</text>
<line x1="116.20" y1="239.60" x2="119.40" y2="239.60" stroke="#111" stroke-width="1.1"/>
<text x="114.80" y="242.20" font-size="7.3" text-anchor="end" fill="#1c1c1c" stroke="#1c1c1c">100</text>
<line x1="119.40" y1="336.00" x2="119.40" y2="339.20" stroke="#111" stroke-width="1.1"/>
<text x="118.50" y="347.60" font-size="7.3" text-anchor="middle" fill="#1c1c1c" stroke="#1c1c1c">0</text>
<line x1="155.70" y1="336.00" x2="155.70" y2="339.20" stroke="#111" stroke-width="1.1"/>
<text x="154.80" y="347.60" font-size="7.3" text-anchor="middle" fill="#1c1c1c" stroke="#1c1c1c">20</text>
<line x1="192.00" y1="336.00" x2="192.00" y2="339.20" stroke="#111" stroke-width="1.1"/>
<text x="191.10" y="347.60" font-size="7.3" text-anchor="middle" fill="#1c1c1c" stroke="#1c1c1c">40</text>
<line x1="228.30" y1="336.00" x2="228.30" y2="339.20" stroke="#111" stroke-width="1.1"/>
<text x="227.40" y="347.60" font-size="7.3" text-anchor="middle" fill="#1c1c1c" stroke="#1c1c1c">60</text>
<line x1="264.60" y1="336.00" x2="264.60" y2="339.20" stroke="#111" stroke-width="1.1"/>
<text x="263.70" y="347.60" font-size="7.3" text-anchor="middle" fill="#1c1c1c" stroke="#1c1c1c">80</text>
<text x="188.60" y="231.50" font-size="7.3" text-anchor="middle" fill="#1c1c1c" stroke="#1c1c1c">GSC468</text>
<text x="99.10" y="292.50" font-size="7.3" text-anchor="middle" transform="rotate(-90 99.10 292.50)" fill="#1c1c1c" stroke="#1c1c1c">Percent survival</text>
<text x="189.70" y="356.50" font-size="7.3" text-anchor="middle" fill="#1c1c1c" stroke="#1c1c1c">Time (Days)</text>
<line x1="228.40" y1="237.80" x2="238.90" y2="237.80" stroke="#111" stroke-width="1.3"/>
<line x1="233.65" y1="236.00" x2="233.65" y2="237.80" stroke="#111" stroke-width="1.1"/>
<text x="243.60" y="240.40" font-size="7.3" fill="#1c1c1c" stroke="#1c1c1c">sgNT (n = 10)</text>
<line x1="228.40" y1="248.90" x2="238.90" y2="248.90" stroke="#1414ff" stroke-width="1.3"/>
<line x1="233.65" y1="247.10" x2="233.65" y2="248.90" stroke="#1414ff" stroke-width="1.1"/>
<text x="243.60" y="251.50" font-size="7.3" fill="#1c1c1c" stroke="#1c1c1c">sgCPSF3#1 (n = 10)</text>
<line x1="228.40" y1="260.00" x2="238.90" y2="260.00" stroke="#ff1414" stroke-width="1.3"/>
<line x1="233.65" y1="258.20" x2="233.65" y2="260.00" stroke="#ff1414" stroke-width="1.1"/>
<text x="243.60" y="262.60" font-size="7.3" fill="#1c1c1c" stroke="#1c1c1c">sgCPSF3#2 (n = 10)</text>
<line x1="172.50" y1="294.40" x2="198.20" y2="294.40" stroke="#1414ff" stroke-width="2.6" stroke-dasharray="5.8 1.6 2.1 1.6 2.1 1.6"/>
<path d="M206.20,294.40 L197.20,290.40 L197.20,298.40Z" fill="#1414ff"/>
<text x="217.90" y="296.40" font-size="7.3" fill="#1414ff" stroke="#1414ff"><tspan font-style="italic">p</tspan> = 0.0015</text>
<line x1="181.20" y1="320.80" x2="222.30" y2="320.80" stroke="#ff1414" stroke-width="2.6" stroke-dasharray="5.8 1.6 2.1 1.6 2.1 1.6"/>
<path d="M230.30,320.80 L221.30,316.80 L221.30,324.80Z" fill="#ff1414"/>
<text x="237.70" y="323.20" font-size="7.3" fill="#ff1414" stroke="#ff1414"><tspan font-style="italic">p</tspan> = 0.0013</text>
<text x="406.60" y="235.10" font-size="12.8" font-weight="bold" fill="#1a1414" stroke="#1a1414">d</text>
<path d="M526.15,237.80H529.05V257.12H531.48V286.10H546.02V305.42H572.67V315.08H582.37V324.74H594.48V334.40" fill="none" stroke="#ff1414" stroke-width="1.3" stroke-linejoin="miter"/>
<path d="M509.18,237.80H526.63V247.46H529.05V276.44H531.48V286.10H555.71V305.42H558.13V324.74H562.98V334.40" fill="none" stroke="#1414ff" stroke-width="1.3" stroke-linejoin="miter"/>
<path d="M461.20,237.80H509.67V257.12H512.09V276.44H516.94V286.10H526.63V305.42H529.05V315.08H533.90V324.74H538.75V334.40" fill="none" stroke="#111" stroke-width="1.3" stroke-linejoin="miter"/>
<line x1="461.20" y1="237.20" x2="461.20" y2="335.00" stroke="#111" stroke-width="1.25"/>
<line x1="460.60" y1="334.40" x2="607.20" y2="334.40" stroke="#111" stroke-width="1.25"/>
<line x1="458.00" y1="334.40" x2="461.20" y2="334.40" stroke="#111" stroke-width="1.1"/>
<text x="456.60" y="337.00" font-size="7.3" text-anchor="end" fill="#1c1c1c" stroke="#1c1c1c">0</text>
<line x1="458.00" y1="315.08" x2="461.20" y2="315.08" stroke="#111" stroke-width="1.1"/>
<text x="456.60" y="317.68" font-size="7.3" text-anchor="end" fill="#1c1c1c" stroke="#1c1c1c">20</text>
<line x1="458.00" y1="295.76" x2="461.20" y2="295.76" stroke="#111" stroke-width="1.1"/>
<text x="456.60" y="298.36" font-size="7.3" text-anchor="end" fill="#1c1c1c" stroke="#1c1c1c">40</text>
<line x1="458.00" y1="276.44" x2="461.20" y2="276.44" stroke="#111" stroke-width="1.1"/>
<text x="456.60" y="279.04" font-size="7.3" text-anchor="end" fill="#1c1c1c" stroke="#1c1c1c">60</text>
<line x1="458.00" y1="257.12" x2="461.20" y2="257.12" stroke="#111" stroke-width="1.1"/>
<text x="456.60" y="259.72" font-size="7.3" text-anchor="end" fill="#1c1c1c" stroke="#1c1c1c">80</text>
<line x1="458.00" y1="237.80" x2="461.20" y2="237.80" stroke="#111" stroke-width="1.1"/>
<text x="456.60" y="240.40" font-size="7.3" text-anchor="end" fill="#1c1c1c" stroke="#1c1c1c">100</text>
<line x1="461.20" y1="334.40" x2="461.20" y2="337.60" stroke="#111" stroke-width="1.1"/>
<text x="460.10" y="345.90" font-size="7.3" text-anchor="middle" fill="#1c1c1c" stroke="#1c1c1c">0</text>
<line x1="509.67" y1="334.40" x2="509.67" y2="337.60" stroke="#111" stroke-width="1.1"/>
<text x="508.57" y="345.90" font-size="7.3" text-anchor="middle" fill="#1c1c1c" stroke="#1c1c1c">20</text>
<line x1="558.13" y1="334.40" x2="558.13" y2="337.60" stroke="#111" stroke-width="1.1"/>
<text x="557.03" y="345.90" font-size="7.3" text-anchor="middle" fill="#1c1c1c" stroke="#1c1c1c">40</text>
<line x1="606.60" y1="334.40" x2="606.60" y2="337.60" stroke="#111" stroke-width="1.1"/>
<text x="605.50" y="345.90" font-size="7.3" text-anchor="middle" fill="#1c1c1c" stroke="#1c1c1c">60</text>
<text x="530.00" y="231.50" font-size="7.3" text-anchor="middle" fill="#1c1c1c" stroke="#1c1c1c">GSC3565</text>
<text x="439.50" y="290.70" font-size="7.3" text-anchor="middle" transform="rotate(-90 439.50 290.70)" fill="#1c1c1c" stroke="#1c1c1c">Percent survival</text>
<text x="530.00" y="356.20" font-size="7.3" text-anchor="middle" fill="#1c1c1c" stroke="#1c1c1c">Time (Days)</text>
<line x1="602.00" y1="237.80" x2="612.50" y2="237.80" stroke="#111" stroke-width="1.3"/>
<line x1="607.25" y1="236.00" x2="607.25" y2="237.80" stroke="#111" stroke-width="1.1"/>
<text x="617.70" y="240.40" font-size="7.3" fill="#1c1c1c" stroke="#1c1c1c">sgNT (n = 10)</text>
<line x1="602.00" y1="248.90" x2="612.50" y2="248.90" stroke="#1414ff" stroke-width="1.3"/>
<line x1="607.25" y1="247.10" x2="607.25" y2="248.90" stroke="#1414ff" stroke-width="1.1"/>
<text x="617.70" y="251.50" font-size="7.3" fill="#1c1c1c" stroke="#1c1c1c">sgCPSF3#1 (n = 10)</text>
<line x1="602.00" y1="260.00" x2="612.50" y2="260.00" stroke="#ff1414" stroke-width="1.3"/>
<line x1="607.25" y1="258.20" x2="607.25" y2="260.00" stroke="#ff1414" stroke-width="1.1"/>
<text x="617.70" y="262.60" font-size="7.3" fill="#1c1c1c" stroke="#1c1c1c">sgCPSF3#2 (n = 10)</text>
<line x1="511.00" y1="250.60" x2="521.50" y2="250.60" stroke="#1414ff" stroke-width="2.6" stroke-dasharray="5.8 1.6 2.1 1.6 2.1 1.6"/>
<path d="M529.50,250.60 L520.50,246.60 L520.50,254.60Z" fill="#1414ff"/>
<text x="533.20" y="253.20" font-size="7.3" fill="#1414ff" stroke="#1414ff"><tspan font-style="italic">p</tspan> = 0.0027</text>
<line x1="530.00" y1="310.30" x2="564.90" y2="310.30" stroke="#ff1414" stroke-width="2.6" stroke-dasharray="5.8 1.6 2.1 1.6 2.1 1.6"/>
<path d="M572.90,310.30 L563.90,306.30 L563.90,314.30Z" fill="#ff1414"/>
<text x="575.90" y="311.70" font-size="7.3" fill="#ff1414" stroke="#ff1414"><tspan font-style="italic">p</tspan> = 0.0013</text>
<text x="409.50" y="450.00" font-size="12.8" font-weight="bold" fill="#1a1414" stroke="#1a1414">f</text>
<path d="M581.43,463.80H591.38V487.88H613.99V536.04H627.56V584.20" fill="none" stroke="#ff1414" stroke-width="1.3" stroke-linejoin="miter"/>
<path d="M455.70,463.80H582.33V487.88H586.85V560.12H591.38V584.20" fill="none" stroke="#111" stroke-width="1.3" stroke-linejoin="miter"/>
<line x1="455.70" y1="463.20" x2="455.70" y2="584.80" stroke="#111" stroke-width="1.25"/>
<line x1="455.10" y1="584.20" x2="637.20" y2="584.20" stroke="#111" stroke-width="1.25"/>
<line x1="452.50" y1="584.20" x2="455.70" y2="584.20" stroke="#111" stroke-width="1.1"/>
<text x="451.10" y="586.80" font-size="7.3" text-anchor="end" fill="#1c1c1c" stroke="#1c1c1c">0</text>
<line x1="452.50" y1="560.12" x2="455.70" y2="560.12" stroke="#111" stroke-width="1.1"/>
<text x="451.10" y="562.72" font-size="7.3" text-anchor="end" fill="#1c1c1c" stroke="#1c1c1c">20</text>
<line x1="452.50" y1="536.04" x2="455.70" y2="536.04" stroke="#111" stroke-width="1.1"/>
<text x="451.10" y="538.64" font-size="7.3" text-anchor="end" fill="#1c1c1c" stroke="#1c1c1c">40</text>
<line x1="452.50" y1="511.96" x2="455.70" y2="511.96" stroke="#111" stroke-width="1.1"/>
<text x="451.10" y="514.56" font-size="7.3" text-anchor="end" fill="#1c1c1c" stroke="#1c1c1c">60</text>
<line x1="452.50" y1="487.88" x2="455.70" y2="487.88" stroke="#111" stroke-width="1.1"/>
<text x="451.10" y="490.48" font-size="7.3" text-anchor="end" fill="#1c1c1c" stroke="#1c1c1c">80</text>
<line x1="452.50" y1="463.80" x2="455.70" y2="463.80" stroke="#111" stroke-width="1.1"/>
<text x="451.10" y="466.40" font-size="7.3" text-anchor="end" fill="#1c1c1c" stroke="#1c1c1c">100</text>
<line x1="455.70" y1="584.20" x2="455.70" y2="587.40" stroke="#111" stroke-width="1.1"/>
<text x="455.70" y="597.60" font-size="7.3" text-anchor="middle" fill="#1c1c1c" stroke="#1c1c1c">0</text>
<line x1="500.93" y1="584.20" x2="500.93" y2="587.40" stroke="#111" stroke-width="1.1"/>
<text x="500.93" y="597.60" font-size="7.3" text-anchor="middle" fill="#1c1c1c" stroke="#1c1c1c">10</text>
<line x1="546.15" y1="584.20" x2="546.15" y2="587.40" stroke="#111" stroke-width="1.1"/>
<text x="546.15" y="597.60" font-size="7.3" text-anchor="middle" fill="#1c1c1c" stroke="#1c1c1c">20</text>
<line x1="591.38" y1="584.20" x2="591.38" y2="587.40" stroke="#111" stroke-width="1.1"/>
<text x="591.38" y="597.60" font-size="7.3" text-anchor="middle" fill="#1c1c1c" stroke="#1c1c1c">30</text>
<line x1="636.60" y1="584.20" x2="636.60" y2="587.40" stroke="#111" stroke-width="1.1"/>
<text x="636.60" y="597.60" font-size="7.3" text-anchor="middle" fill="#1c1c1c" stroke="#1c1c1c">40</text>
<text x="534.50" y="458.20" font-size="7.3" text-anchor="middle" fill="#1c1c1c" stroke="#1c1c1c">GSC3565</text>
<text x="435.00" y="526.80" font-size="7.3" text-anchor="middle" transform="rotate(-90 435.00 526.80)" fill="#1c1c1c" stroke="#1c1c1c">Percent survival</text>
<text x="542.50" y="605.30" font-size="7.3" text-anchor="middle" fill="#1c1c1c" stroke="#1c1c1c">Time (Days)</text>
<line x1="607.00" y1="462.30" x2="620.40" y2="462.30" stroke="#111" stroke-width="1.3"/>
<line x1="613.70" y1="460.50" x2="613.70" y2="462.30" stroke="#111" stroke-width="1.1"/>
<text x="627.10" y="464.90" font-size="7.3" fill="#1c1c1c" stroke="#1c1c1c">Vehicle (n = 5)</text>
<line x1="607.00" y1="476.90" x2="620.40" y2="476.90" stroke="#ff1414" stroke-width="1.3"/>
<line x1="613.70" y1="475.10" x2="613.70" y2="476.90" stroke="#ff1414" stroke-width="1.1"/>
<text x="627.10" y="479.50" font-size="7.3" fill="#1c1c1c" stroke="#1c1c1c">JTE-607 (n = 5)</text>
<line x1="587.00" y1="546.00" x2="619.00" y2="546.00" stroke="#ff1414" stroke-width="2.6" stroke-dasharray="5.8 1.6 2.1 1.6 2.1 1.6"/>
<path d="M627.00,546.00 L618.00,542.00 L618.00,550.00Z" fill="#ff1414"/>
<text x="633.80" y="548.00" font-size="7.3" fill="#ff1414" stroke="#ff1414"><tspan font-style="italic">p</tspan> = 0.0052</text>
<text x="15.60" y="447.80" font-size="12.8" font-weight="bold" fill="#1a1414" stroke="#1a1414">e</text>
<text x="15.60" y="623.30" font-size="12.8" font-weight="bold" fill="#1a1414" stroke="#1a1414">g</text>
<text x="16.00" y="760.50" font-size="12.8" font-weight="bold" fill="#1a1414" stroke="#1a1414">h</text>
<text x="16.00" y="895.30" font-size="12.8" font-weight="bold" fill="#1a1414" stroke="#1a1414">i</text>
<text x="410.00" y="626.30" font-size="12.8" font-weight="bold" fill="#1a1414" stroke="#1a1414">j</text>
<text x="407.60" y="829.00" font-size="12.8" font-weight="bold" fill="#1a1414" stroke="#1a1414">k</text>
<line x1="480.40" y1="703.35" x2="534.84" y2="703.35" stroke="#111" stroke-width="1.5" stroke-dasharray="5.2 3.4"/>
<line x1="511.12" y1="763.20" x2="511.12" y2="703.35" stroke="#111" stroke-width="1.5" stroke-dasharray="5.2 3.4"/>
<line x1="534.84" y1="763.20" x2="534.84" y2="703.35" stroke="#111" stroke-width="1.5" stroke-dasharray="5.2 3.4"/>
<path d="M480.40,644.10H481.29V645.42H482.33V646.97H483.87V649.26H484.82V650.67H484.95V650.85H485.84V653.00H486.99V655.74H487.58V657.17H488.64V659.71H489.00V660.57H489.89V662.72H491.39V666.37H491.88V667.57H492.32V668.63H492.69V669.24H493.19V670.06H494.77V672.69H496.21V675.07H496.65V675.80H497.11V676.57H498.57V678.05H500.50V680.03H501.97V681.52H503.39V682.97H503.51V683.09H504.06V683.56H504.49V683.93H505.81V685.05H506.32V685.49H507.07V686.13H507.91V686.85H508.39V687.25H509.64V688.32H509.90V688.54H510.86V689.29H512.83V690.83H514.24V691.93H515.89V693.23H516.41V693.63H517.30V694.28H519.05V695.54H520.41V696.53H521.44V697.27H522.80V698.25H523.92V698.82H526.46V700.08H528.72V701.22H529.19V701.45H530.74V701.96H531.94V702.36H532.96V702.69H534.13V703.07H534.82V703.30H534.97V703.35H537.07V703.81H538.53V704.13H541.03V704.67H542.50V704.99H545.29V705.60H547.98V705.95H548.57V706.03H549.68V706.17H552.55V706.54H554.36V706.78H557.51V707.19H558.07V707.26H559.19V707.63H560.02V707.90H562.35V708.67H565.12V709.58H566.52V710.05H567.43V710.35H567.78V710.46H569.04V710.50H572.46V710.62H575.35V710.72H576.40V710.75H577.84V710.80H578.85V710.83H579.75V710.86H582.89V710.97H584.17V711.01H585.36V711.05H586.34V713.66H605.27V718.16H669.91" fill="none" stroke="#3a4aa3" stroke-width="1.5" stroke-linejoin="round"/>
<path d="M577.15,709.28v3M575.85,710.78h2.6M581.75,709.43v3M580.45,710.93h2.6M653.46,716.66v3M652.16,718.16h2.6M642.75,716.66v3M641.45,718.16h2.6M664.71,716.66v3M663.41,718.16h2.6M648.74,716.66v3M647.44,718.16h2.6M569.71,709.03v3M568.41,710.53h2.6M639.12,716.66v3M637.82,718.16h2.6M536.41,702.16v3M535.11,703.66h2.6M583.97,709.51v3M582.67,711.01h2.6M589.49,712.16v3M588.19,713.66h2.6M590.74,712.16v3M589.44,713.66h2.6M661.30,716.66v3M660.00,718.16h2.6M593.74,712.16v3M592.44,713.66h2.6M584.05,709.51v3M582.75,711.01h2.6M556.50,705.56v3M555.20,707.06h2.6M658.54,716.66v3M657.24,718.16h2.6M666.41,716.66v3M665.11,718.16h2.6M614.43,716.66v3M613.13,718.16h2.6M567.55,708.88v3M566.25,710.38h2.6M653.78,716.66v3M652.48,718.16h2.6M631.99,716.66v3M630.69,718.16h2.6M576.88,709.27v3M575.58,710.77h2.6M547.53,704.39v3M546.23,705.89h2.6M503.76,681.80v3M502.46,683.30h2.6M622.66,716.66v3M621.36,718.16h2.6M622.67,716.66v3M621.37,718.16h2.6M632.77,716.66v3M631.47,718.16h2.6M553.45,705.16v3M552.15,706.66h2.6M652.09,716.66v3M650.79,718.16h2.6M565.19,708.10v3M563.89,709.60h2.6M645.38,716.66v3M644.08,718.16h2.6M626.41,716.66v3M625.11,718.16h2.6M632.33,716.66v3M631.03,718.16h2.6M668.71,716.66v3M667.41,718.16h2.6M642.29,716.66v3M640.99,718.16h2.6M653.06,716.66v3M651.76,718.16h2.6M505.29,683.11v3M503.99,684.61h2.6M495.58,672.54v3M494.28,674.04h2.6M638.47,716.66v3M637.17,718.16h2.6M669.91,716.66v3M668.61,718.16h2.6" fill="none" stroke="#3a4aa3" stroke-width="0.7"/>
<path d="M480.40,644.10H481.32V646.10H482.49V648.65H483.69V651.26H484.20V652.38H484.21V652.39H484.54V653.38H485.38V655.86H486.08V657.95H487.41V661.88H487.54V662.34H488.85V666.89H490.06V671.07H490.72V673.37H491.22V674.91H492.55V679.00H493.13V680.78H493.92V683.21H494.16V683.67H494.77V684.88H496.53V688.34H497.00V689.26H497.11V689.49H498.67V691.85H499.18V692.62H500.31V694.34H500.67V694.71H501.62V695.67H502.69V696.75H504.50V698.59H504.94V699.04H505.10V699.20H505.46V699.46H507.45V700.94H508.77V701.92H509.36V702.36H511.49V703.94H511.56V703.99H513.73V705.61H514.39V706.10H515.64V707.03H516.35V707.56H517.41V708.35H518.01V708.80H519.07V709.45H519.86V709.93H521.71V711.05H522.30V711.41H523.12V711.91H525.27V713.22H526.00V713.66H526.60V713.95H527.98V714.63H529.75V715.50H531.29V716.25H532.65V716.91H533.24V717.20H533.98V717.57H535.37V718.28H538.09V719.67H540.88V721.10H542.10V721.72H543.00V722.19H544.42V722.92H545.87V723.68H548.13V724.85H550.08V725.87H550.39V725.98H551.27V726.31H552.47V726.75H554.00V727.32H555.94V728.04H556.48V728.24H558.67V728.40H560.64V728.54H561.36V728.60H564.23V728.81H566.07V728.95H567.66V729.06H568.18V729.19H569.48V729.49H571.38V729.93H573.18V730.35H576.13V731.03H577.14V731.26H577.37V731.32H579.49V732.20H580.75V732.72H583.59V733.90H584.44V734.25H585.36V734.63H586.04V734.71H587.87V734.93H590.65V735.25H591.58V735.36H593.47V735.58H593.84V735.71H595.30V736.24H597.02V736.85H599.40V737.69H601.46V738.43H603.44V738.82H605.91V739.31H610.08V740.13H611.04V740.32H645.45" fill="none" stroke="#e8141c" stroke-width="1.5" stroke-linejoin="round"/>
<path d="M645.22,738.82v3M643.92,740.32h2.6M626.16,738.82v3M624.86,740.32h2.6M619.37,738.82v3M618.07,740.32h2.6M525.86,712.08v3M524.56,713.58h2.6M564.33,727.32v3M563.03,728.82h2.6M531.01,714.61v3M529.71,716.11h2.6M581.12,731.37v3M579.82,732.87h2.6M640.36,738.82v3M639.06,740.32h2.6M570.20,728.15v3M568.90,729.65h2.6M580.55,731.14v3M579.25,732.64h2.6M529.80,714.02v3M528.50,715.52h2.6M635.15,738.82v3M633.85,740.32h2.6M594.19,734.34v3M592.89,735.84h2.6M642.27,738.82v3M640.97,740.32h2.6M587.21,733.35v3M585.91,734.85h2.6M639.55,738.82v3M638.25,740.32h2.6M555.06,726.21v3M553.76,727.71h2.6M630.08,738.82v3M628.78,740.32h2.6M588.12,733.46v3M586.82,734.96h2.6M604.45,737.52v3M603.15,739.02h2.6M492.89,678.53v3M491.59,680.03h2.6M630.52,738.82v3M629.22,740.32h2.6M629.54,738.82v3M628.24,740.32h2.6M573.27,728.86v3M571.97,730.36h2.6M586.74,733.30v3M585.44,734.80h2.6M538.68,718.47v3M537.38,719.97h2.6M597.20,735.41v3M595.90,736.91h2.6M603.17,737.27v3M601.87,738.77h2.6M576.98,729.73v3M575.68,731.23h2.6M616.88,738.82v3M615.58,740.32h2.6M583.04,732.17v3M581.74,733.67h2.6M598.23,735.78v3M596.93,737.28h2.6M592.58,733.98v3M591.28,735.48h2.6M598.96,736.04v3M597.66,737.54h2.6M615.26,738.82v3M613.96,740.32h2.6M584.40,732.74v3M583.10,734.24h2.6M587.38,733.37v3M586.08,734.87h2.6M593.93,734.25v3M592.63,735.75h2.6M524.44,711.21v3M523.14,712.71h2.6M568.00,727.64v3M566.70,729.14h2.6M645.45,738.82v3M644.15,740.32h2.6" fill="none" stroke="#e8141c" stroke-width="0.7"/>
<line x1="470.70" y1="638.50" x2="470.70" y2="770.00" stroke="#111" stroke-width="1.4"/>
<line x1="470.00" y1="769.30" x2="672.50" y2="769.30" stroke="#111" stroke-width="1.4"/>
<line x1="468.10" y1="762.60" x2="470.70" y2="762.60" stroke="#111" stroke-width="1.0"/>
<text x="467.20" y="765.20" font-size="7.3" text-anchor="end" fill="#1c1c1c" stroke="#1c1c1c">0.00</text>
<line x1="468.10" y1="732.98" x2="470.70" y2="732.98" stroke="#111" stroke-width="1.0"/>
<text x="467.20" y="735.58" font-size="7.3" text-anchor="end" fill="#1c1c1c" stroke="#1c1c1c">0.25</text>
<line x1="468.10" y1="703.35" x2="470.70" y2="703.35" stroke="#111" stroke-width="1.0"/>
<text x="467.20" y="705.95" font-size="7.3" text-anchor="end" fill="#1c1c1c" stroke="#1c1c1c">0.50</text>
<line x1="468.10" y1="673.73" x2="470.70" y2="673.73" stroke="#111" stroke-width="1.0"/>
<text x="467.20" y="676.33" font-size="7.3" text-anchor="end" fill="#1c1c1c" stroke="#1c1c1c">0.75</text>
<line x1="468.10" y1="644.10" x2="470.70" y2="644.10" stroke="#111" stroke-width="1.0"/>
<text x="467.20" y="646.70" font-size="7.3" text-anchor="end" fill="#1c1c1c" stroke="#1c1c1c">1.00</text>
<line x1="480.40" y1="769.30" x2="480.40" y2="771.50" stroke="#111" stroke-width="1.0"/>
<text x="480.40" y="779.50" font-size="7.3" text-anchor="middle" fill="#1c1c1c" stroke="#1c1c1c">0</text>
<line x1="541.85" y1="769.30" x2="541.85" y2="771.50" stroke="#111" stroke-width="1.0"/>
<text x="541.85" y="779.50" font-size="7.3" text-anchor="middle" fill="#1c1c1c" stroke="#1c1c1c">50</text>
<line x1="603.30" y1="769.30" x2="603.30" y2="771.50" stroke="#111" stroke-width="1.0"/>
<text x="603.30" y="779.50" font-size="7.3" text-anchor="middle" fill="#1c1c1c" stroke="#1c1c1c">100</text>
<line x1="664.75" y1="769.30" x2="664.75" y2="771.50" stroke="#111" stroke-width="1.0"/>
<text x="664.75" y="779.50" font-size="7.3" text-anchor="middle" fill="#1c1c1c" stroke="#1c1c1c">150</text>
<text x="534.00" y="635.20" font-size="7.3" text-anchor="middle" fill="#1c1c1c" stroke="#1c1c1c">CGGA glioma</text>
<text x="448.00" y="703.35" font-size="7.3" text-anchor="middle" transform="rotate(-90 448.00 703.35)" fill="#1c1c1c" stroke="#1c1c1c">Survival probability</text>
<text x="571.80" y="788.60" font-size="7.3" text-anchor="middle" fill="#1c1c1c" stroke="#1c1c1c">Time (Months)</text>
<line x1="533.10" y1="656.20" x2="540.30" y2="656.20" stroke="#e8141c" stroke-width="1.25"/>
<line x1="536.70" y1="654.50" x2="536.70" y2="656.20" stroke="#e8141c" stroke-width="0.9"/>
<text x="543.50" y="658.80" font-size="7.45" fill="#1c1c1c" stroke="#1c1c1c">RBBP6 high (n = 248)</text>
<line x1="533.10" y1="670.40" x2="540.30" y2="670.40" stroke="#3a4aa3" stroke-width="1.25"/>
<line x1="536.70" y1="668.70" x2="536.70" y2="670.40" stroke="#3a4aa3" stroke-width="0.9"/>
<text x="543.50" y="673.00" font-size="7.45" fill="#1c1c1c" stroke="#1c1c1c">RBBP6 low (n = 245)</text>
<text x="537.30" y="755.70" font-size="7.3" fill="#1c1c1c" stroke="#1c1c1c"><tspan font-style="italic">p</tspan> = 0.00031</text>
<line x1="478.20" y1="895.00" x2="544.69" y2="895.00" stroke="#111" stroke-width="1.5" stroke-dasharray="5.2 3.4"/>
<line x1="502.38" y1="954.00" x2="502.38" y2="895.00" stroke="#111" stroke-width="1.5" stroke-dasharray="5.2 3.4"/>
<line x1="544.69" y1="954.00" x2="544.69" y2="895.00" stroke="#111" stroke-width="1.5" stroke-dasharray="5.2 3.4"/>
<path d="M478.20,836.60H478.71V837.18H479.90V838.52H481.03V839.81H481.98V840.88H482.43V841.39H482.58V841.78H483.97V845.34H485.41V849.01H485.57V849.45H486.45V851.62H487.50V854.21H488.18V855.89H488.53V856.75H488.84V857.51H489.41V858.68H490.62V861.15H491.08V862.08H491.98V863.93H492.62V864.87H493.34V865.92H494.06V866.98H494.49V867.61H495.25V868.72H496.41V869.37H497.97V870.23H499.76V871.23H500.08V871.41H501.17V872.16H501.62V872.47H502.58V873.13H503.82V874.00H504.43V874.42H506.49V875.84H507.56V876.55H508.26V877.01H510.16V878.25H510.82V878.69H512.90V880.05H512.97V880.09H514.26V880.95H515.77V881.93H516.88V882.67H518.29V883.59H519.13V884.14H519.31V884.25H519.68V884.48H521.88V885.80H522.84V886.38H524.93V887.64H525.71V888.11H525.86V888.17H528.40V889.19H530.83V890.16H532.12V890.68H533.01V891.02H535.24V891.89H537.09V892.61H539.32V893.48H540.16V893.81H540.22V893.83H541.84V894.39H544.38V895.28H544.94V895.47H545.45V895.49H548.29V895.65H551.10V895.80H552.75V895.89H554.30V895.97H556.09V896.07H557.74V896.16H561.02V897.72H562.72V898.55H563.44V898.91H564.28V899.32H564.36V899.35H567.02V900.25H570.49V901.42H572.61V902.14H573.95V902.59H574.74V902.66H577.07V902.85H580.03V903.10H581.44V903.22H584.04V903.44H585.08V903.53H599.63V903.56H602.46V905.82H604.34V907.31H604.42V907.38H605.52V907.66H606.59V907.93H610.28V908.88H610.83V909.02H613.92V910.14H616.15V910.96H617.24V911.35H664.39" fill="none" stroke="#3a4aa3" stroke-width="1.5" stroke-linejoin="round"/>
<path d="M644.45,909.85v3M643.15,911.35h2.6M624.48,909.85v3M623.18,911.35h2.6M588.40,902.03v3M587.10,903.53h2.6M579.46,901.55v3M578.16,903.05h2.6M654.06,909.85v3M652.76,911.35h2.6M661.46,909.85v3M660.16,911.35h2.6M660.17,909.85v3M658.87,911.35h2.6M580.65,901.65v3M579.35,903.15h2.6M647.82,909.85v3M646.52,911.35h2.6M628.24,909.85v3M626.94,911.35h2.6M621.49,909.85v3M620.19,911.35h2.6M616.70,909.66v3M615.40,911.16h2.6M536.59,890.92v3M535.29,892.42h2.6M489.68,857.72v3M488.38,859.22h2.6M622.78,909.85v3M621.48,911.35h2.6M601.52,903.57v3M600.22,905.07h2.6M603.52,905.16v3M602.22,906.66h2.6M657.10,909.85v3M655.80,911.35h2.6M571.60,900.30v3M570.30,901.80h2.6M576.40,901.30v3M575.10,902.80h2.6M640.97,909.85v3M639.67,911.35h2.6M510.21,876.78v3M508.91,878.28h2.6M545.11,893.98v3M543.81,895.48h2.6M580.82,901.67v3M579.52,903.17h2.6M554.56,894.49v3M553.26,895.99h2.6M634.78,909.85v3M633.48,911.35h2.6M642.12,909.85v3M640.82,911.35h2.6M609.49,907.17v3M608.19,908.67h2.6M499.08,869.35v3M497.78,870.85h2.6M518.81,882.43v3M517.51,883.93h2.6M532.51,889.33v3M531.21,890.83h2.6M601.80,903.80v3M600.50,905.30h2.6M542.49,893.12v3M541.19,894.62h2.6M539.95,892.23v3M538.65,893.73h2.6M584.84,902.01v3M583.54,903.51h2.6M505.27,873.50v3M503.97,875.00h2.6M577.58,901.40v3M576.28,902.90h2.6M633.61,909.85v3M632.31,911.35h2.6M580.68,901.66v3M579.38,903.16h2.6M499.12,869.37v3M497.82,870.87h2.6M664.39,909.85v3M663.09,911.35h2.6" fill="none" stroke="#3a4aa3" stroke-width="0.7"/>
<path d="M478.20,836.60H479.72V840.08H480.21V841.20H480.55V841.99H482.17V845.70H482.43V846.29H482.74V847.22H483.22V848.70H484.43V852.38H485.23V854.83H485.57V855.87H486.80V860.13H487.47V862.45H488.84V867.20H489.18V868.25H490.00V870.74H491.24V874.51H491.98V876.78H492.99V879.27H494.40V882.75H495.25V884.84H496.21V886.44H497.71V888.94H498.17V889.71H499.98V892.73H500.08V892.90H501.35V894.18H502.26V895.11H502.62V895.47H502.99V895.84H504.84V897.71H506.27V899.14H508.06V900.96H508.34V901.16H510.16V902.52H512.35V904.16H513.85V905.28H514.47V905.75H515.62V906.34H517.26V907.19H518.23V907.70H520.58V908.92H521.69V909.49H522.57V909.95H523.76V910.53H526.23V911.72H528.10V912.62H528.92V913.02H530.55V913.80H531.21V913.96H533.20V914.41H534.14V914.63H534.79V914.78H536.53V915.18H537.15V915.32H539.83V915.93H540.22V916.02H541.57V916.20H543.37V916.44H544.93V916.64H547.12V916.93H548.20V917.08H549.98V917.20H551.36V917.31H552.92V917.42H555.03V917.57H556.43V917.68H558.63V917.84H560.72V917.99H561.02V918.01H562.54V918.35H565.05V918.92H567.18V919.40H568.11V919.61H571.62V920.40H573.34V920.79H573.95V920.93H575.31V921.37H577.21V921.98H580.71V923.11H581.93V923.50H584.36V924.96H586.71V926.37H588.34V927.35H613.12V933.78H643.83" fill="none" stroke="#e8141c" stroke-width="1.5" stroke-linejoin="round"/>
<path d="M579.04,921.07v3M577.74,922.57h2.6M603.86,925.85v3M602.56,927.35h2.6M601.30,925.85v3M600.00,927.35h2.6M543.05,914.90v3M541.75,916.40h2.6M615.73,932.28v3M614.43,933.78h2.6M598.28,925.85v3M596.98,927.35h2.6M568.35,918.16v3M567.05,919.66h2.6M577.24,920.49v3M575.94,921.99h2.6M494.40,881.25v3M493.10,882.75h2.6M572.44,919.09v3M571.14,920.59h2.6M527.63,910.90v3M526.33,912.40h2.6M561.60,916.64v3M560.30,918.14h2.6M584.08,923.29v3M582.78,924.79h2.6M602.49,925.85v3M601.19,927.35h2.6M587.15,925.14v3M585.85,926.64h2.6M571.25,918.82v3M569.95,920.32h2.6M621.08,932.28v3M619.78,933.78h2.6M599.87,925.85v3M598.57,927.35h2.6M576.99,920.41v3M575.69,921.91h2.6M498.04,888.00v3M496.74,889.50h2.6M512.48,902.76v3M511.18,904.26h2.6M598.17,925.85v3M596.87,927.35h2.6M597.08,925.85v3M595.78,927.35h2.6M492.53,876.62v3M491.23,878.12h2.6M488.51,864.55v3M487.21,866.05h2.6M641.58,932.28v3M640.28,933.78h2.6M524.26,909.27v3M522.96,910.77h2.6M631.43,932.28v3M630.13,933.78h2.6M587.34,925.25v3M586.04,926.75h2.6M625.85,932.28v3M624.55,933.78h2.6M627.16,932.28v3M625.86,933.78h2.6M544.34,915.07v3M543.04,916.57h2.6M578.04,920.75v3M576.74,922.25h2.6M512.69,902.92v3M511.39,904.42h2.6M567.39,917.95v3M566.09,919.45h2.6M615.35,932.28v3M614.05,933.78h2.6M632.37,932.28v3M631.07,933.78h2.6M612.47,925.85v3M611.17,927.35h2.6M557.35,916.24v3M556.05,917.74h2.6M599.89,925.85v3M598.59,927.35h2.6M643.83,932.28v3M642.53,933.78h2.6" fill="none" stroke="#e8141c" stroke-width="0.7"/>
<line x1="469.10" y1="830.80" x2="469.10" y2="960.10" stroke="#111" stroke-width="1.4"/>
<line x1="468.40" y1="959.40" x2="668.40" y2="959.40" stroke="#111" stroke-width="1.4"/>
<line x1="466.50" y1="953.40" x2="469.10" y2="953.40" stroke="#111" stroke-width="1.0"/>
<text x="465.60" y="956.00" font-size="7.3" text-anchor="end" fill="#1c1c1c" stroke="#1c1c1c">0.00</text>
<line x1="466.50" y1="924.20" x2="469.10" y2="924.20" stroke="#111" stroke-width="1.0"/>
<text x="465.60" y="926.80" font-size="7.3" text-anchor="end" fill="#1c1c1c" stroke="#1c1c1c">0.25</text>
<line x1="466.50" y1="895.00" x2="469.10" y2="895.00" stroke="#111" stroke-width="1.0"/>
<text x="465.60" y="897.60" font-size="7.3" text-anchor="end" fill="#1c1c1c" stroke="#1c1c1c">0.50</text>
<line x1="466.50" y1="865.80" x2="469.10" y2="865.80" stroke="#111" stroke-width="1.0"/>
<text x="465.60" y="868.40" font-size="7.3" text-anchor="end" fill="#1c1c1c" stroke="#1c1c1c">0.75</text>
<line x1="466.50" y1="836.60" x2="469.10" y2="836.60" stroke="#111" stroke-width="1.0"/>
<text x="465.60" y="839.20" font-size="7.3" text-anchor="end" fill="#1c1c1c" stroke="#1c1c1c">1.00</text>
<line x1="478.20" y1="959.40" x2="478.20" y2="961.60" stroke="#111" stroke-width="1.0"/>
<text x="478.20" y="967.70" font-size="7.3" text-anchor="middle" fill="#1c1c1c" stroke="#1c1c1c">0</text>
<line x1="538.65" y1="959.40" x2="538.65" y2="961.60" stroke="#111" stroke-width="1.0"/>
<text x="538.65" y="967.70" font-size="7.3" text-anchor="middle" fill="#1c1c1c" stroke="#1c1c1c">50</text>
<line x1="599.10" y1="959.40" x2="599.10" y2="961.60" stroke="#111" stroke-width="1.0"/>
<text x="599.10" y="967.70" font-size="7.3" text-anchor="middle" fill="#1c1c1c" stroke="#1c1c1c">100</text>
<line x1="659.55" y1="959.40" x2="659.55" y2="961.60" stroke="#111" stroke-width="1.0"/>
<text x="659.55" y="967.70" font-size="7.3" text-anchor="middle" fill="#1c1c1c" stroke="#1c1c1c">150</text>
<text x="552.70" y="823.00" font-size="7.3" text-anchor="middle" fill="#1c1c1c" stroke="#1c1c1c">CGGA glioma</text>
<text x="446.30" y="895.00" font-size="7.3" text-anchor="middle" transform="rotate(-90 446.30 895.00)" fill="#1c1c1c" stroke="#1c1c1c">Survival probability</text>
<text x="570.60" y="977.10" font-size="7.3" text-anchor="middle" fill="#1c1c1c" stroke="#1c1c1c">Time (Months)</text>
<line x1="526.90" y1="844.10" x2="534.10" y2="844.10" stroke="#e8141c" stroke-width="1.25"/>
<line x1="530.50" y1="842.40" x2="530.50" y2="844.10" stroke="#e8141c" stroke-width="0.9"/>
<text x="536.50" y="846.70" font-size="7.45" fill="#1c1c1c" stroke="#1c1c1c">CPSF3 high (n = 245)</text>
<line x1="526.90" y1="858.30" x2="534.10" y2="858.30" stroke="#3a4aa3" stroke-width="1.25"/>
<line x1="530.50" y1="856.60" x2="530.50" y2="858.30" stroke="#3a4aa3" stroke-width="0.9"/>
<text x="536.50" y="860.90" font-size="7.45" fill="#1c1c1c" stroke="#1c1c1c">CPSF3 low (n = 244)</text>
<text x="502.80" y="941.20" font-size="7.3" fill="#1c1c1c" stroke="#1c1c1c"><tspan font-style="italic">p</tspan> &lt; 0.0001</text>
<rect x="321.00" y="684.94" width="14.00" height="46.56" fill="#000"/>
<rect x="342.40" y="727.98" width="14.30" height="3.52" fill="#ff0d0d"/>
<line x1="328.00" y1="670.47" x2="328.00" y2="699.41" stroke="#555" stroke-width="1.0"/>
<line x1="324.30" y1="670.47" x2="331.70" y2="670.47" stroke="#555" stroke-width="1.0"/>
<line x1="324.30" y1="699.41" x2="331.70" y2="699.41" stroke="#555" stroke-width="1.0"/>
<line x1="349.55" y1="725.08" x2="349.55" y2="730.87" stroke="#a00000" stroke-width="1.0"/>
<line x1="345.85" y1="725.08" x2="353.25" y2="725.08" stroke="#a00000" stroke-width="1.0"/>
<line x1="345.85" y1="730.87" x2="353.25" y2="730.87" stroke="#a00000" stroke-width="1.0"/>
<circle cx="328.00" cy="661.16" r="1.2" fill="#5e5e5e"/>
<circle cx="328.00" cy="690.35" r="1.2" fill="#5e5e5e"/>
<circle cx="328.00" cy="684.31" r="1.2" fill="#5e5e5e"/>
<circle cx="349.55" cy="730.24" r="1.15" fill="#a80000"/>
<circle cx="349.55" cy="728.73" r="1.15" fill="#a80000"/>
<circle cx="349.55" cy="725.71" r="1.15" fill="#a80000"/>
<line x1="313.10" y1="655.50" x2="313.10" y2="732.00" stroke="#000" stroke-width="1.1"/>
<line x1="312.60" y1="731.50" x2="364.40" y2="731.50" stroke="#000" stroke-width="1.1"/>
<line x1="338.70" y1="731.50" x2="338.70" y2="734.50" stroke="#000" stroke-width="1.0"/>
<line x1="310.10" y1="731.50" x2="313.10" y2="731.50" stroke="#000" stroke-width="1.0"/>
<text x="305.70" y="734.10" font-size="7.3" text-anchor="end" fill="#1c1c1c" stroke="#1c1c1c">0</text>
<line x1="310.10" y1="706.33" x2="313.10" y2="706.33" stroke="#000" stroke-width="1.0"/>
<text x="305.70" y="708.93" font-size="7.3" text-anchor="end" fill="#1c1c1c" stroke="#1c1c1c">20</text>
<line x1="310.10" y1="681.17" x2="313.10" y2="681.17" stroke="#000" stroke-width="1.0"/>
<text x="305.70" y="683.77" font-size="7.3" text-anchor="end" fill="#1c1c1c" stroke="#1c1c1c">40</text>
<line x1="310.10" y1="656.00" x2="313.10" y2="656.00" stroke="#000" stroke-width="1.0"/>
<text x="305.70" y="658.60" font-size="7.3" text-anchor="end" fill="#1c1c1c" stroke="#1c1c1c">60</text>
<text x="293.20" y="695.00" font-size="7.3" text-anchor="middle" transform="rotate(-90 293.20 695.00)" fill="#1c1c1c" stroke="#1c1c1c">MYC positive cells (%)</text>
<text x="349.55" y="721.68" font-size="8.2" text-anchor="middle" fill="#333" stroke="#333">**</text>
<rect x="355.20" y="654.10" width="10.20" height="5.20" fill="#000"/>
<rect x="355.20" y="664.80" width="10.20" height="5.20" fill="#ff0d0d"/>
<text x="368.30" y="659.30" font-size="7.3" fill="#1c1c1c" stroke="#1c1c1c">Vehicle</text>
<text x="368.30" y="670.00" font-size="7.3" fill="#1c1c1c" stroke="#1c1c1c">JTE-607</text>
<rect x="321.00" y="800.19" width="14.00" height="52.01" fill="#000"/>
<rect x="342.40" y="847.19" width="14.30" height="5.01" fill="#ff0d0d"/>
<line x1="328.00" y1="787.28" x2="328.00" y2="813.10" stroke="#555" stroke-width="1.0"/>
<line x1="324.30" y1="787.28" x2="331.70" y2="787.28" stroke="#555" stroke-width="1.0"/>
<line x1="324.30" y1="813.10" x2="331.70" y2="813.10" stroke="#555" stroke-width="1.0"/>
<line x1="349.55" y1="844.18" x2="349.55" y2="850.19" stroke="#a00000" stroke-width="1.0"/>
<line x1="345.85" y1="844.18" x2="353.25" y2="844.18" stroke="#a00000" stroke-width="1.0"/>
<line x1="345.85" y1="850.19" x2="353.25" y2="850.19" stroke="#a00000" stroke-width="1.0"/>
<circle cx="328.00" cy="783.89" r="1.2" fill="#5e5e5e"/>
<circle cx="328.00" cy="789.53" r="1.2" fill="#5e5e5e"/>
<circle cx="328.00" cy="805.83" r="1.2" fill="#5e5e5e"/>
<circle cx="328.00" cy="813.97" r="1.2" fill="#5e5e5e"/>
<circle cx="349.55" cy="849.07" r="1.15" fill="#a80000"/>
<circle cx="349.55" cy="847.44" r="1.15" fill="#a80000"/>
<circle cx="349.55" cy="845.18" r="1.15" fill="#a80000"/>
<circle cx="349.55" cy="844.43" r="1.15" fill="#a80000"/>
<line x1="313.10" y1="776.50" x2="313.10" y2="852.70" stroke="#000" stroke-width="1.1"/>
<line x1="312.60" y1="852.20" x2="364.40" y2="852.20" stroke="#000" stroke-width="1.1"/>
<line x1="338.70" y1="852.20" x2="338.70" y2="855.20" stroke="#000" stroke-width="1.0"/>
<line x1="310.10" y1="852.20" x2="313.10" y2="852.20" stroke="#000" stroke-width="1.0"/>
<text x="305.70" y="854.80" font-size="7.3" text-anchor="end" fill="#1c1c1c" stroke="#1c1c1c">0</text>
<line x1="310.10" y1="827.13" x2="313.10" y2="827.13" stroke="#000" stroke-width="1.0"/>
<text x="305.70" y="829.73" font-size="7.3" text-anchor="end" fill="#1c1c1c" stroke="#1c1c1c">20</text>
<line x1="310.10" y1="802.07" x2="313.10" y2="802.07" stroke="#000" stroke-width="1.0"/>
<text x="305.70" y="804.67" font-size="7.3" text-anchor="end" fill="#1c1c1c" stroke="#1c1c1c">40</text>
<line x1="310.10" y1="777.00" x2="313.10" y2="777.00" stroke="#000" stroke-width="1.0"/>
<text x="305.70" y="779.60" font-size="7.3" text-anchor="end" fill="#1c1c1c" stroke="#1c1c1c">60</text>
<text x="293.20" y="815.50" font-size="7.3" text-anchor="middle" transform="rotate(-90 293.20 815.50)" fill="#1c1c1c" stroke="#1c1c1c">Ki-67 positive cells (%)</text>
<text x="349.55" y="840.78" font-size="8.2" text-anchor="middle" fill="#333" stroke="#333">***</text>
<rect x="355.20" y="760.80" width="10.20" height="5.20" fill="#000"/>
<rect x="355.20" y="771.50" width="10.20" height="5.20" fill="#ff0d0d"/>
<text x="368.30" y="766.00" font-size="7.3" fill="#1c1c1c" stroke="#1c1c1c">Vehicle</text>
<text x="368.30" y="776.70" font-size="7.3" fill="#1c1c1c" stroke="#1c1c1c">JTE-607</text>
<rect x="321.00" y="988.53" width="14.00" height="2.27" fill="#000"/>
<rect x="342.40" y="939.59" width="14.30" height="51.21" fill="#ff0d0d"/>
<line x1="328.00" y1="985.51" x2="328.00" y2="990.80" stroke="#333" stroke-width="1.0"/>
<line x1="324.30" y1="985.51" x2="331.70" y2="985.51" stroke="#333" stroke-width="1.0"/>
<line x1="324.30" y1="990.80" x2="331.70" y2="990.80" stroke="#333" stroke-width="1.0"/>
<line x1="349.55" y1="925.74" x2="349.55" y2="953.43" stroke="#a00000" stroke-width="1.0"/>
<line x1="345.85" y1="925.74" x2="353.25" y2="925.74" stroke="#a00000" stroke-width="1.0"/>
<line x1="345.85" y1="953.43" x2="353.25" y2="953.43" stroke="#a00000" stroke-width="1.0"/>
<circle cx="328.00" cy="989.79" r="1.2" fill="#5e5e5e"/>
<circle cx="328.00" cy="988.28" r="1.2" fill="#5e5e5e"/>
<circle cx="328.00" cy="983.00" r="1.2" fill="#5e5e5e"/>
<circle cx="349.55" cy="922.22" r="1.15" fill="#a80000"/>
<circle cx="349.55" cy="930.40" r="1.15" fill="#a80000"/>
<circle cx="349.55" cy="942.98" r="1.15" fill="#a80000"/>
<circle cx="349.55" cy="949.27" r="1.15" fill="#a80000"/>
<circle cx="349.55" cy="954.31" r="1.15" fill="#a80000"/>
<line x1="313.10" y1="914.80" x2="313.10" y2="991.30" stroke="#000" stroke-width="1.1"/>
<line x1="312.60" y1="990.80" x2="364.40" y2="990.80" stroke="#000" stroke-width="1.1"/>
<line x1="338.70" y1="990.80" x2="338.70" y2="993.80" stroke="#000" stroke-width="1.0"/>
<line x1="310.10" y1="990.80" x2="313.10" y2="990.80" stroke="#000" stroke-width="1.0"/>
<text x="305.70" y="993.40" font-size="7.3" text-anchor="end" fill="#1c1c1c" stroke="#1c1c1c">0</text>
<line x1="310.10" y1="965.63" x2="313.10" y2="965.63" stroke="#000" stroke-width="1.0"/>
<text x="305.70" y="968.23" font-size="7.3" text-anchor="end" fill="#1c1c1c" stroke="#1c1c1c">20</text>
<line x1="310.10" y1="940.47" x2="313.10" y2="940.47" stroke="#000" stroke-width="1.0"/>
<text x="305.70" y="943.07" font-size="7.3" text-anchor="end" fill="#1c1c1c" stroke="#1c1c1c">40</text>
<line x1="310.10" y1="915.30" x2="313.10" y2="915.30" stroke="#000" stroke-width="1.0"/>
<text x="305.70" y="917.90" font-size="7.3" text-anchor="end" fill="#1c1c1c" stroke="#1c1c1c">60</text>
<text x="293.20" y="951.50" font-size="7.3" text-anchor="middle" transform="rotate(-90 293.20 951.50)" fill="#1c1c1c" stroke="#1c1c1c">TUNEL positive cells (%)</text>
<text x="349.55" y="922.34" font-size="8.2" text-anchor="middle" fill="#333" stroke="#333">***</text>
<rect x="355.20" y="891.50" width="10.20" height="5.20" fill="#000"/>
<rect x="355.20" y="901.80" width="10.20" height="5.20" fill="#ff0d0d"/>
<text x="368.30" y="896.70" font-size="7.3" fill="#1c1c1c" stroke="#1c1c1c">Vehicle</text>
<text x="368.30" y="907.00" font-size="7.3" fill="#1c1c1c" stroke="#1c1c1c">JTE-607</text>
<rect x="102.10" y="157.30" width="55.90" height="46.20" fill="#edf4f1" stroke="#0a0a0a" stroke-width="1.3"/>
<path d="M129.20,169.20 C130.13,166.25 139.66,165.07 146.40,170.38 C152.45,175.10 153.84,184.69 149.66,190.15 C146.40,194.57 138.96,195.75 135.24,193.69 C132.92,192.50 131.06,195.46 129.20,194.28 C127.34,195.46 125.48,192.50 123.15,193.69 C119.43,195.75 111.99,194.57 108.74,190.15 C104.55,184.69 105.95,175.10 111.99,170.38 C118.74,165.07 128.27,166.25 129.20,169.20Z" fill="#ecc4e6" filter="url(#bblur)"/>
<g clip-path="url(#bc1)">
<ellipse cx="129.20" cy="183.36" rx="13.95" ry="8.85" fill="#fff" opacity="0.16" filter="url(#bblur2)"/>
<ellipse cx="139.66" cy="174.36" rx="8.37" ry="5.90" fill="#b890d0" opacity="0.6" filter="url(#bblur2)"/>
<ellipse cx="141.99" cy="175.84" rx="2.33" ry="1.77" fill="#e0509a" opacity="0.6" filter="url(#bblur2)"/>
<ellipse cx="116.41" cy="175.84" rx="6.97" ry="4.42" fill="#c49cd8" opacity="0.45" filter="url(#bblur2)"/>
<ellipse cx="129.20" cy="184.69" rx="11.62" ry="7.38" fill="#f0b0d4" opacity="0.5" filter="url(#bblur2)"/>
<path d="M129.20,169.20 C130.13,166.25 139.66,165.07 146.40,170.38 C152.45,175.10 153.84,184.69 149.66,190.15 C146.40,194.57 138.96,195.75 135.24,193.69 C132.92,192.50 131.06,195.46 129.20,194.28 C127.34,195.46 125.48,192.50 123.15,193.69 C119.43,195.75 111.99,194.57 108.74,190.15 C104.55,184.69 105.95,175.10 111.99,170.38 C118.74,165.07 128.27,166.25 129.20,169.20Z" fill="#000" filter="url(#btex)" opacity="0.16"/>
</g>
<line x1="131.10" y1="200.30" x2="152.00" y2="200.30" stroke="#0a0a0a" stroke-width="1.5"/>
<rect x="162.30" y="157.30" width="56.00" height="46.20" fill="#edf4f1" stroke="#0a0a0a" stroke-width="1.3"/>
<path d="M188.30,172.22 C189.65,169.48 190.55,163.70 196.85,163.40 C205.85,163.10 211.25,170.24 210.80,177.84 C210.35,185.44 207.43,190.76 201.80,192.74 C197.30,194.10 192.80,191.67 188.30,192.58 C183.80,191.67 179.30,194.10 174.80,192.74 C169.18,190.76 166.25,186.20 165.80,179.36 C165.35,172.52 170.30,164.62 178.85,164.62 C185.15,164.62 186.95,169.48 188.30,172.22Z" fill="#dfb2de" filter="url(#bblur)"/>
<g clip-path="url(#bc2)">
<ellipse cx="188.30" cy="181.03" rx="13.50" ry="9.12" fill="#fff" opacity="0.16" filter="url(#bblur2)"/>
<ellipse cx="195.05" cy="180.12" rx="11.25" ry="9.12" fill="#d3a2d6" opacity="0.5" filter="url(#bblur2)"/>
<ellipse cx="177.05" cy="178.60" rx="6.75" ry="6.08" fill="#e2b6de" opacity="0.5" filter="url(#bblur2)"/>
<path d="M188.30,172.22 C189.65,169.48 190.55,163.70 196.85,163.40 C205.85,163.10 211.25,170.24 210.80,177.84 C210.35,185.44 207.43,190.76 201.80,192.74 C197.30,194.10 192.80,191.67 188.30,192.58 C183.80,191.67 179.30,194.10 174.80,192.74 C169.18,190.76 166.25,186.20 165.80,179.36 C165.35,172.52 170.30,164.62 178.85,164.62 C185.15,164.62 186.95,169.48 188.30,172.22Z" fill="#000" filter="url(#btex)" opacity="0.16"/>
</g>
<line x1="191.60" y1="200.30" x2="212.90" y2="200.30" stroke="#0a0a0a" stroke-width="1.5"/>
<rect x="222.40" y="157.30" width="55.80" height="46.20" fill="#edf4f1" stroke="#0a0a0a" stroke-width="1.3"/>
<path d="M248.70,164.50 C249.86,163.60 260.30,162.70 266.80,168.10 C272.36,172.90 273.06,183.10 268.65,189.10 C264.94,193.30 255.66,192.85 248.70,192.40 C241.74,192.85 232.46,193.30 228.75,189.10 C224.34,183.10 225.04,172.90 230.60,168.10 C237.10,162.70 247.54,163.60 248.70,164.50Z" fill="#f0c2e0" filter="url(#bblur)"/>
<g clip-path="url(#bc3)">
<ellipse cx="248.70" cy="181.00" rx="13.92" ry="9.00" fill="#fff" opacity="0.16" filter="url(#bblur2)"/>
<ellipse cx="254.50" cy="177.10" rx="6.96" ry="5.25" fill="#f09cc8" opacity="0.4" filter="url(#bblur2)"/>
<ellipse cx="244.06" cy="178.60" rx="9.28" ry="6.00" fill="#f3c4e2" opacity="0.4" filter="url(#bblur2)"/>
<path d="M248.70,164.50 C249.86,163.60 260.30,162.70 266.80,168.10 C272.36,172.90 273.06,183.10 268.65,189.10 C264.94,193.30 255.66,192.85 248.70,192.40 C241.74,192.85 232.46,193.30 228.75,189.10 C224.34,183.10 225.04,172.90 230.60,168.10 C237.10,162.70 247.54,163.60 248.70,164.50Z" fill="#000" filter="url(#btex)" opacity="0.16"/>
</g>
<line x1="253.30" y1="200.30" x2="274.50" y2="200.30" stroke="#0a0a0a" stroke-width="1.5"/>
<rect x="444.80" y="156.20" width="55.90" height="46.00" fill="#edf4f1" stroke="#0a0a0a" stroke-width="1.3"/>
<path d="M472.80,164.30 C474.03,162.60 485.05,161.58 491.91,167.70 C497.79,173.14 498.53,184.70 493.87,191.50 C489.95,196.26 480.15,195.75 472.80,195.24 C465.45,195.75 455.65,196.26 451.73,191.50 C447.07,184.70 447.81,173.14 453.69,167.70 C460.55,161.58 471.57,162.60 472.80,164.30Z" fill="#dfbee8" filter="url(#bblur)"/>
<g clip-path="url(#bc4)">
<ellipse cx="472.80" cy="182.32" rx="14.70" ry="10.20" fill="#fff" opacity="0.16" filter="url(#bblur2)"/>
<ellipse cx="483.82" cy="174.50" rx="9.80" ry="8.50" fill="#b090d6" opacity="0.7" filter="url(#bblur2)"/>
<ellipse cx="472.80" cy="189.80" rx="2.94" ry="5.95" fill="#9870c6" opacity="0.75" filter="url(#bblur2)"/>
<ellipse cx="455.65" cy="181.30" rx="3.92" ry="3.40" fill="#b496d8" opacity="0.6" filter="url(#bblur2)"/>
<ellipse cx="470.35" cy="181.30" rx="7.35" ry="5.10" fill="#f2bce0" opacity="0.6" filter="url(#bblur2)"/>
<ellipse cx="457.61" cy="188.10" rx="3.43" ry="2.38" fill="#fff" opacity="0.8" filter="url(#bblur2)"/>
<ellipse cx="486.28" cy="189.80" rx="3.19" ry="2.21" fill="#fff" opacity="0.7" filter="url(#bblur2)"/>
<path d="M472.80,164.30 C474.03,162.60 485.05,161.58 491.91,167.70 C497.79,173.14 498.53,184.70 493.87,191.50 C489.95,196.26 480.15,195.75 472.80,195.24 C465.45,195.75 455.65,196.26 451.73,191.50 C447.07,184.70 447.81,173.14 453.69,167.70 C460.55,161.58 471.57,162.60 472.80,164.30Z" fill="#000" filter="url(#btex)" opacity="0.16"/>
</g>
<line x1="475.30" y1="199.00" x2="497.00" y2="199.00" stroke="#0a0a0a" stroke-width="1.5"/>
<rect x="505.80" y="156.20" width="55.30" height="46.00" fill="#edf4f1" stroke="#0a0a0a" stroke-width="1.3"/>
<path d="M533.40,165.12 C534.49,163.05 543.19,162.17 549.06,166.30 C554.72,170.43 556.02,179.28 554.28,185.91 C552.98,191.08 546.45,192.26 539.92,191.81 C536.66,191.52 535.14,190.49 533.40,191.08 C531.66,190.49 530.14,191.52 526.88,191.81 C520.35,192.26 513.82,191.08 512.52,185.91 C510.78,179.28 512.08,170.43 517.74,166.30 C523.61,162.17 532.31,163.05 533.40,165.12Z" fill="#e3bee4" filter="url(#bblur)"/>
<g clip-path="url(#bc5)">
<ellipse cx="533.40" cy="180.16" rx="13.05" ry="8.85" fill="#fff" opacity="0.16" filter="url(#bblur2)"/>
<ellipse cx="533.40" cy="180.01" rx="9.79" ry="6.64" fill="#eabade" opacity="0.5" filter="url(#bblur2)"/>
<path d="M533.40,165.12 C534.49,163.05 543.19,162.17 549.06,166.30 C554.72,170.43 556.02,179.28 554.28,185.91 C552.98,191.08 546.45,192.26 539.92,191.81 C536.66,191.52 535.14,190.49 533.40,191.08 C531.66,190.49 530.14,191.52 526.88,191.81 C520.35,192.26 513.82,191.08 512.52,185.91 C510.78,179.28 512.08,170.43 517.74,166.30 C523.61,162.17 532.31,163.05 533.40,165.12Z" fill="#000" filter="url(#btex)" opacity="0.16"/>
</g>
<line x1="536.40" y1="199.00" x2="557.60" y2="199.00" stroke="#0a0a0a" stroke-width="1.5"/>
<rect x="565.60" y="156.20" width="55.40" height="46.00" fill="#edf4f1" stroke="#0a0a0a" stroke-width="1.3"/>
<path d="M593.20,177.55 C597.70,177.55 597.70,171.64 598.60,167.92 C599.95,164.35 607.15,165.45 611.65,170.67 C615.70,175.07 616.83,184.01 613.45,189.10 C610.75,192.95 604.45,192.95 601.75,190.75 C599.95,189.38 595.90,190.75 593.20,190.20 C590.50,190.75 586.45,189.38 584.65,190.75 C581.95,192.95 575.65,192.95 572.95,189.10 C569.58,184.01 570.70,175.07 574.75,170.67 C579.25,165.45 586.45,164.35 587.80,167.92 C588.70,171.64 588.70,177.55 593.20,177.55Z" fill="#eac2e6" filter="url(#bblur)"/>
<g clip-path="url(#bc6)">
<ellipse cx="593.20" cy="181.40" rx="13.50" ry="8.25" fill="#fff" opacity="0.16" filter="url(#bblur2)"/>
<ellipse cx="593.20" cy="183.32" rx="7.20" ry="5.50" fill="#f098c8" opacity="0.65" filter="url(#bblur2)"/>
<path d="M593.20,177.55 C597.70,177.55 597.70,171.64 598.60,167.92 C599.95,164.35 607.15,165.45 611.65,170.67 C615.70,175.07 616.83,184.01 613.45,189.10 C610.75,192.95 604.45,192.95 601.75,190.75 C599.95,189.38 595.90,190.75 593.20,190.20 C590.50,190.75 586.45,189.38 584.65,190.75 C581.95,192.95 575.65,192.95 572.95,189.10 C569.58,184.01 570.70,175.07 574.75,170.67 C579.25,165.45 586.45,164.35 587.80,167.92 C588.70,171.64 588.70,177.55 593.20,177.55Z" fill="#000" filter="url(#btex)" opacity="0.16"/>
</g>
<line x1="597.00" y1="199.00" x2="617.80" y2="199.00" stroke="#0a0a0a" stroke-width="1.5"/>
<rect x="102.30" y="375.30" width="55.10" height="46.20" fill="#dcdcdc" stroke="#474040" stroke-width="1.15"/>
<path d="M130.20,383.59 C131.44,381.00 141.41,379.89 148.13,385.07 C154.60,390.25 156.10,401.35 154.10,409.68 C152.61,416.15 145.14,417.63 137.67,417.07 C133.94,416.70 132.19,415.41 130.20,416.15 C128.21,415.41 126.46,416.70 122.73,417.07 C115.26,417.63 107.79,416.15 106.30,409.68 C104.30,401.35 105.80,390.25 112.27,385.07 C118.99,379.89 128.95,381.00 130.20,383.59Z" fill="#d6a0d4" filter="url(#bblur)"/>
<g clip-path="url(#bc7)">
<ellipse cx="130.20" cy="402.46" rx="14.94" ry="11.10" fill="#fff" opacity="0.16" filter="url(#bblur2)"/>
<ellipse cx="117.75" cy="393.95" rx="4.98" ry="5.92" fill="#9a70c2" opacity="0.55" filter="url(#bblur2)"/>
<ellipse cx="132.69" cy="391.73" rx="4.48" ry="4.81" fill="#a074c4" opacity="0.55" filter="url(#bblur2)"/>
<ellipse cx="143.89" cy="394.88" rx="3.49" ry="4.44" fill="#a884cc" opacity="0.45" filter="url(#bblur2)"/>
<ellipse cx="130.20" cy="405.05" rx="14.94" ry="7.40" fill="#dc9cd8" opacity="0.4" filter="url(#bblur2)"/>
<path d="M130.20,383.59 C131.44,381.00 141.41,379.89 148.13,385.07 C154.60,390.25 156.10,401.35 154.10,409.68 C152.61,416.15 145.14,417.63 137.67,417.07 C133.94,416.70 132.19,415.41 130.20,416.15 C128.21,415.41 126.46,416.70 122.73,417.07 C115.26,417.63 107.79,416.15 106.30,409.68 C104.30,401.35 105.80,390.25 112.27,385.07 C118.99,379.89 128.95,381.00 130.20,383.59Z" fill="#000" filter="url(#btex)" opacity="0.16"/>
</g>
<line x1="133.30" y1="418.40" x2="154.20" y2="418.40" stroke="#0a0a0a" stroke-width="1.5"/>
<rect x="161.20" y="375.30" width="55.10" height="46.20" fill="#dcdcdc" stroke="#474040" stroke-width="1.15"/>
<path d="M188.20,382.30 C189.39,381.00 200.10,380.02 206.76,385.89 C212.48,391.11 213.19,402.19 208.67,408.71 C204.86,413.27 195.34,412.79 188.20,412.30 C181.06,412.79 171.54,413.27 167.73,408.71 C163.21,402.19 163.92,391.11 169.64,385.89 C176.30,380.02 187.01,381.00 188.20,382.30Z" fill="#d8aad8" filter="url(#bblur)"/>
<g clip-path="url(#bc8)">
<ellipse cx="188.20" cy="399.91" rx="14.28" ry="9.78" fill="#fff" opacity="0.16" filter="url(#bblur2)"/>
<ellipse cx="188.20" cy="392.41" rx="10.71" ry="2.61" fill="#f0a4c8" opacity="0.45" filter="url(#bblur2)"/>
<ellipse cx="173.92" cy="385.89" rx="5.95" ry="3.26" fill="#ccb8e0" opacity="0.7" filter="url(#bblur2)"/>
<path d="M188.20,382.30 C189.39,381.00 200.10,380.02 206.76,385.89 C212.48,391.11 213.19,402.19 208.67,408.71 C204.86,413.27 195.34,412.79 188.20,412.30 C181.06,412.79 171.54,413.27 167.73,408.71 C163.21,402.19 163.92,391.11 169.64,385.89 C176.30,380.02 187.01,381.00 188.20,382.30Z" fill="#000" filter="url(#btex)" opacity="0.16"/>
</g>
<line x1="192.20" y1="418.40" x2="214.80" y2="418.40" stroke="#0a0a0a" stroke-width="1.5"/>
<rect x="222.40" y="375.30" width="55.50" height="46.20" fill="#dcdcdc" stroke="#474040" stroke-width="1.15"/>
<path d="M250.00,383.38 C251.22,382.40 262.23,381.42 269.07,387.29 C274.94,392.51 275.67,403.59 271.03,410.11 C267.12,414.67 257.33,414.19 250.00,413.70 C242.66,414.19 232.88,414.67 228.97,410.11 C224.33,403.59 225.06,392.51 230.93,387.29 C237.78,381.42 248.78,382.40 250.00,383.38Z" fill="#d4a0ce" filter="url(#bblur)"/>
<g clip-path="url(#bc9)">
<ellipse cx="250.00" cy="401.31" rx="14.67" ry="9.78" fill="#fff" opacity="0.16" filter="url(#bblur2)"/>
<ellipse cx="247.56" cy="394.62" rx="12.22" ry="3.26" fill="#e484ba" opacity="0.4" filter="url(#bblur2)"/>
<path d="M250.00,383.38 C251.22,382.40 262.23,381.42 269.07,387.29 C274.94,392.51 275.67,403.59 271.03,410.11 C267.12,414.67 257.33,414.19 250.00,413.70 C242.66,414.19 232.88,414.67 228.97,410.11 C224.33,403.59 225.06,392.51 230.93,387.29 C237.78,381.42 248.78,382.40 250.00,383.38Z" fill="#000" filter="url(#btex)" opacity="0.16"/>
</g>
<line x1="254.10" y1="418.40" x2="277.00" y2="418.40" stroke="#0a0a0a" stroke-width="1.5"/>
<rect x="444.80" y="375.50" width="55.90" height="45.30" fill="#dcdcdc" stroke="#474040" stroke-width="1.15"/>
<path d="M472.30,383.83 C473.54,381.00 483.42,379.94 490.08,384.89 C496.51,389.85 497.99,400.47 496.01,408.44 C494.53,414.63 487.12,416.05 479.71,415.51 C476.00,415.16 474.28,413.92 472.30,414.63 C470.32,413.92 468.60,415.16 464.89,415.51 C457.48,416.05 450.07,414.63 448.59,408.44 C446.61,400.47 448.09,389.85 454.52,384.89 C461.19,379.94 471.06,381.00 472.30,383.83Z" fill="#d09ed8" filter="url(#bblur)"/>
<g clip-path="url(#bc10)">
<ellipse cx="472.30" cy="401.53" rx="14.82" ry="10.62" fill="#fff" opacity="0.16" filter="url(#bblur2)"/>
<ellipse cx="473.54" cy="395.16" rx="11.12" ry="7.96" fill="#b088cc" opacity="0.6" filter="url(#bblur2)"/>
<ellipse cx="472.30" cy="407.55" rx="14.82" ry="5.31" fill="#dcaade" opacity="0.4" filter="url(#bblur2)"/>
<path d="M472.30,383.83 C473.54,381.00 483.42,379.94 490.08,384.89 C496.51,389.85 497.99,400.47 496.01,408.44 C494.53,414.63 487.12,416.05 479.71,415.51 C476.00,415.16 474.28,413.92 472.30,414.63 C470.32,413.92 468.60,415.16 464.89,415.51 C457.48,416.05 450.07,414.63 448.59,408.44 C446.61,400.47 448.09,389.85 454.52,384.89 C461.19,379.94 471.06,381.00 472.30,383.83Z" fill="#000" filter="url(#btex)" opacity="0.16"/>
</g>
<line x1="475.30" y1="417.90" x2="497.60" y2="417.90" stroke="#0a0a0a" stroke-width="1.5"/>
<rect x="506.00" y="375.50" width="56.00" height="45.30" fill="#dcdcdc" stroke="#474040" stroke-width="1.15"/>
<path d="M535.30,387.32 C536.16,385.00 544.97,383.84 551.21,389.06 C556.80,393.70 558.09,403.12 554.22,408.49 C551.21,412.84 544.33,414.00 540.89,411.97 C538.74,410.81 537.02,413.71 535.30,412.55 C533.58,413.71 531.86,410.81 529.71,411.97 C526.27,414.00 519.39,412.84 516.38,408.49 C512.51,403.12 513.80,393.70 519.39,389.06 C525.62,383.84 534.44,385.00 535.30,387.32Z" fill="#d8acdc" filter="url(#bblur)"/>
<g clip-path="url(#bc11)">
<ellipse cx="535.30" cy="401.82" rx="12.90" ry="8.70" fill="#fff" opacity="0.16" filter="url(#bblur2)"/>
<ellipse cx="535.30" cy="398.05" rx="8.60" ry="5.80" fill="#d4a8da" opacity="0.5" filter="url(#bblur2)"/>
<path d="M535.30,387.32 C536.16,385.00 544.97,383.84 551.21,389.06 C556.80,393.70 558.09,403.12 554.22,408.49 C551.21,412.84 544.33,414.00 540.89,411.97 C538.74,410.81 537.02,413.71 535.30,412.55 C533.58,413.71 531.86,410.81 529.71,411.97 C526.27,414.00 519.39,412.84 516.38,408.49 C512.51,403.12 513.80,393.70 519.39,389.06 C525.62,383.84 534.44,385.00 535.30,387.32Z" fill="#000" filter="url(#btex)" opacity="0.16"/>
</g>
<line x1="535.60" y1="417.90" x2="558.70" y2="417.90" stroke="#0a0a0a" stroke-width="1.5"/>
<rect x="566.40" y="375.50" width="55.50" height="45.30" fill="#dcdcdc" stroke="#474040" stroke-width="1.15"/>
<path d="M595.40,381.85 C596.59,379.65 606.09,378.55 612.50,383.69 C618.67,388.82 620.10,399.83 618.20,408.09 C616.77,414.51 609.65,415.98 602.52,415.43 C598.96,415.07 597.30,413.78 595.40,414.51 C593.50,413.78 591.84,415.07 588.27,415.43 C581.15,415.98 574.02,414.51 572.60,408.09 C570.70,399.83 572.12,388.82 578.30,383.69 C584.71,378.55 594.21,379.65 595.40,381.85Z" fill="#cc7cc8" filter="url(#bblur)"/>
<g clip-path="url(#bc12)">
<ellipse cx="595.40" cy="400.94" rx="14.25" ry="11.01" fill="#fff" opacity="0.16" filter="url(#bblur2)"/>
<ellipse cx="597.77" cy="392.50" rx="9.50" ry="6.42" fill="#e868b0" opacity="0.45" filter="url(#bblur2)"/>
<ellipse cx="595.40" cy="405.34" rx="11.88" ry="5.50" fill="#cc8cd0" opacity="0.4" filter="url(#bblur2)"/>
<path d="M595.40,381.85 C596.59,379.65 606.09,378.55 612.50,383.69 C618.67,388.82 620.10,399.83 618.20,408.09 C616.77,414.51 609.65,415.98 602.52,415.43 C598.96,415.07 597.30,413.78 595.40,414.51 C593.50,413.78 591.84,415.07 588.27,415.43 C581.15,415.98 574.02,414.51 572.60,408.09 C570.70,399.83 572.12,388.82 578.30,383.69 C584.71,378.55 594.21,379.65 595.40,381.85Z" fill="#000" filter="url(#btex)" opacity="0.16"/>
</g>
<line x1="597.00" y1="417.90" x2="619.20" y2="417.90" stroke="#0a0a0a" stroke-width="1.5"/>
<text x="133.30" y="152.80" font-size="7.4" text-anchor="middle" fill="#1c1c1c" stroke="#1c1c1c">sgNT</text>
<text x="191.50" y="152.80" font-size="7.4" text-anchor="middle" fill="#1c1c1c" stroke="#1c1c1c">sgRBBP6#1</text>
<text x="252.80" y="152.80" font-size="7.4" text-anchor="middle" fill="#1c1c1c" stroke="#1c1c1c">sgRBBP6#7</text>
<text x="472.80" y="153.60" font-size="7.4" text-anchor="middle" fill="#1c1c1c" stroke="#1c1c1c">sgNT</text>
<text x="533.50" y="153.60" font-size="7.4" text-anchor="middle" fill="#1c1c1c" stroke="#1c1c1c">sgRBBP6#1</text>
<text x="593.30" y="153.60" font-size="7.4" text-anchor="middle" fill="#1c1c1c" stroke="#1c1c1c">sgRBBP6#7</text>
<text x="137.90" y="371.90" font-size="7.4" text-anchor="middle" fill="#1c1c1c" stroke="#1c1c1c">sgNT</text>
<text x="194.00" y="371.90" font-size="7.4" text-anchor="middle" fill="#1c1c1c" stroke="#1c1c1c">sgCPSF3#1</text>
<text x="253.10" y="371.90" font-size="7.4" text-anchor="middle" fill="#1c1c1c" stroke="#1c1c1c">sgCPSF3#2</text>
<text x="473.70" y="372.40" font-size="7.4" text-anchor="middle" fill="#1c1c1c" stroke="#1c1c1c">sgNT</text>
<text x="532.20" y="372.40" font-size="7.4" text-anchor="middle" fill="#1c1c1c" stroke="#1c1c1c">sgCPSF3#1</text>
<text x="588.80" y="372.40" font-size="7.4" text-anchor="middle" fill="#1c1c1c" stroke="#1c1c1c">sgCPSF3#2</text>
<text x="102.60" y="215.20" font-size="7.45" fill="#1c1c1c" stroke="#1c1c1c">Scale bar: 5 mm</text>
<text x="446.00" y="214.60" font-size="7.45" fill="#1c1c1c" stroke="#1c1c1c">Scale bar: 5 mm</text>
<text x="102.00" y="432.70" font-size="7.45" fill="#1c1c1c" stroke="#1c1c1c">Scale bar: 5 mm</text>
<text x="446.00" y="432.90" font-size="7.45" fill="#1c1c1c" stroke="#1c1c1c">Scale bar: 5 mm</text>
<rect x="78.40" y="463.60" width="105.10" height="26.20" fill="#0b0b0b"/>
<g clip-path="url(#mr1)">
<rect x="81.60" y="463.60" width="1.40" height="10.00" fill="#202020"/>
<rect x="85.40" y="463.60" width="1.40" height="10.00" fill="#202020"/>
<rect x="100.60" y="463.60" width="1.40" height="10.00" fill="#202020"/>
<rect x="104.40" y="463.60" width="1.40" height="10.00" fill="#202020"/>
<rect x="119.60" y="463.60" width="1.40" height="10.00" fill="#202020"/>
<rect x="123.40" y="463.60" width="1.40" height="10.00" fill="#202020"/>
<rect x="138.60" y="463.60" width="1.40" height="10.00" fill="#202020"/>
<rect x="142.40" y="463.60" width="1.40" height="10.00" fill="#202020"/>
<rect x="157.60" y="463.60" width="1.40" height="10.00" fill="#202020"/>
<rect x="161.40" y="463.60" width="1.40" height="10.00" fill="#202020"/>
<rect x="176.60" y="463.60" width="1.40" height="10.00" fill="#202020"/>
<rect x="180.40" y="463.60" width="1.40" height="10.00" fill="#202020"/>
<line x1="93.70" y1="463.90" x2="93.70" y2="469.60" stroke="#9c9c9c" stroke-width="1.25"/>
<g filter="url(#mblur)"><path d="M93.70,469.00 C95.10,471.10 97.30,475.60 98.70,478.80 C100.10,481.60 101.30,485.10 102.50,489.80 L84.90,489.80 C86.10,485.10 87.30,481.60 88.70,478.80 C90.10,475.60 92.30,471.10 93.70,469.00Z" fill="url(#mg)"/><path d="M93.70,469.00 C95.10,471.10 97.30,475.60 98.70,478.80 C100.10,481.60 101.30,485.10 102.50,489.80 L84.90,489.80 C86.10,485.10 87.30,481.60 88.70,478.80 C90.10,475.60 92.30,471.10 93.70,469.00Z" fill="url(#mg2)"/></g>
<path d="M93.70,469.00 C95.10,471.10 97.30,475.60 98.70,478.80 C100.10,481.60 101.30,485.10 102.50,489.80 L84.90,489.80 C86.10,485.10 87.30,481.60 88.70,478.80 C90.10,475.60 92.30,471.10 93.70,469.00Z" fill="#000" filter="url(#mtex)" opacity="0.24"/>
<line x1="112.70" y1="463.90" x2="112.70" y2="469.60" stroke="#9c9c9c" stroke-width="1.25"/>
<g filter="url(#mblur)"><path d="M112.70,469.00 C114.10,471.10 116.30,475.60 117.70,478.80 C119.70,481.60 120.90,485.10 122.10,489.80 L104.50,489.80 C105.70,485.10 106.90,481.60 107.70,478.80 C109.10,475.60 111.30,471.10 112.70,469.00Z" fill="url(#mg)"/><path d="M112.70,469.00 C114.10,471.10 116.30,475.60 117.70,478.80 C119.70,481.60 120.90,485.10 122.10,489.80 L104.50,489.80 C105.70,485.10 106.90,481.60 107.70,478.80 C109.10,475.60 111.30,471.10 112.70,469.00Z" fill="url(#mg2)"/></g>
<path d="M112.70,469.00 C114.10,471.10 116.30,475.60 117.70,478.80 C119.70,481.60 120.90,485.10 122.10,489.80 L104.50,489.80 C105.70,485.10 106.90,481.60 107.70,478.80 C109.10,475.60 111.30,471.10 112.70,469.00Z" fill="#000" filter="url(#mtex)" opacity="0.24"/>
<line x1="131.50" y1="463.90" x2="131.50" y2="469.60" stroke="#9c9c9c" stroke-width="1.25"/>
<g filter="url(#mblur)"><path d="M131.50,469.00 C132.90,471.10 135.10,475.60 136.50,478.80 C137.30,481.60 138.50,485.10 139.70,489.80 L122.10,489.80 C123.30,485.10 124.50,481.60 126.50,478.80 C127.90,475.60 130.10,471.10 131.50,469.00Z" fill="url(#mg)"/><path d="M131.50,469.00 C132.90,471.10 135.10,475.60 136.50,478.80 C137.30,481.60 138.50,485.10 139.70,489.80 L122.10,489.80 C123.30,485.10 124.50,481.60 126.50,478.80 C127.90,475.60 130.10,471.10 131.50,469.00Z" fill="url(#mg2)"/></g>
<path d="M131.50,469.00 C132.90,471.10 135.10,475.60 136.50,478.80 C137.30,481.60 138.50,485.10 139.70,489.80 L122.10,489.80 C123.30,485.10 124.50,481.60 126.50,478.80 C127.90,475.60 130.10,471.10 131.50,469.00Z" fill="#000" filter="url(#mtex)" opacity="0.24"/>
<line x1="150.00" y1="463.90" x2="150.00" y2="469.60" stroke="#9c9c9c" stroke-width="1.25"/>
<g filter="url(#mblur)"><path d="M150.00,469.00 C151.40,471.10 153.60,475.60 155.00,478.80 C156.70,481.60 157.90,485.10 159.10,489.80 L141.50,489.80 C142.70,485.10 143.90,481.60 145.00,478.80 C146.40,475.60 148.60,471.10 150.00,469.00Z" fill="url(#mg)"/><path d="M150.00,469.00 C151.40,471.10 153.60,475.60 155.00,478.80 C156.70,481.60 157.90,485.10 159.10,489.80 L141.50,489.80 C142.70,485.10 143.90,481.60 145.00,478.80 C146.40,475.60 148.60,471.10 150.00,469.00Z" fill="url(#mg2)"/></g>
<path d="M150.00,469.00 C151.40,471.10 153.60,475.60 155.00,478.80 C156.70,481.60 157.90,485.10 159.10,489.80 L141.50,489.80 C142.70,485.10 143.90,481.60 145.00,478.80 C146.40,475.60 148.60,471.10 150.00,469.00Z" fill="#000" filter="url(#mtex)" opacity="0.24"/>
<line x1="168.60" y1="463.90" x2="168.60" y2="469.60" stroke="#9c9c9c" stroke-width="1.25"/>
<g filter="url(#mblur)"><path d="M168.60,469.00 C170.00,471.10 172.20,475.60 173.60,478.80 C174.70,481.60 175.90,485.10 177.10,489.80 L159.50,489.80 C160.70,485.10 161.90,481.60 163.60,478.80 C165.00,475.60 167.20,471.10 168.60,469.00Z" fill="url(#mg)"/><path d="M168.60,469.00 C170.00,471.10 172.20,475.60 173.60,478.80 C174.70,481.60 175.90,485.10 177.10,489.80 L159.50,489.80 C160.70,485.10 161.90,481.60 163.60,478.80 C165.00,475.60 167.20,471.10 168.60,469.00Z" fill="url(#mg2)"/></g>
<path d="M168.60,469.00 C170.00,471.10 172.20,475.60 173.60,478.80 C174.70,481.60 175.90,485.10 177.10,489.80 L159.50,489.80 C160.70,485.10 161.90,481.60 163.60,478.80 C165.00,475.60 167.20,471.10 168.60,469.00Z" fill="#000" filter="url(#mtex)" opacity="0.24"/>
<ellipse cx="94.00" cy="474.60" rx="1.10" ry="1.00" fill="url(#sigP)" filter="url(#sblur)"/>
<ellipse cx="132.30" cy="474.40" rx="1.10" ry="1.00" fill="url(#sigP)" filter="url(#sblur)"/>
<ellipse cx="150.20" cy="474.80" rx="1.10" ry="1.00" fill="url(#sigP)" filter="url(#sblur)"/>
<ellipse cx="169.00" cy="475.20" rx="1.10" ry="1.00" fill="url(#sigP)" filter="url(#sblur)"/>
</g>
<rect x="186.40" y="463.60" width="105.00" height="26.20" fill="#0b0b0b"/>
<g clip-path="url(#mr2)">
<rect x="187.80" y="463.60" width="1.40" height="10.00" fill="#202020"/>
<rect x="191.60" y="463.60" width="1.40" height="10.00" fill="#202020"/>
<rect x="206.80" y="463.60" width="1.40" height="10.00" fill="#202020"/>
<rect x="210.60" y="463.60" width="1.40" height="10.00" fill="#202020"/>
<rect x="225.80" y="463.60" width="1.40" height="10.00" fill="#202020"/>
<rect x="229.60" y="463.60" width="1.40" height="10.00" fill="#202020"/>
<rect x="244.80" y="463.60" width="1.40" height="10.00" fill="#202020"/>
<rect x="248.60" y="463.60" width="1.40" height="10.00" fill="#202020"/>
<rect x="263.80" y="463.60" width="1.40" height="10.00" fill="#202020"/>
<rect x="267.60" y="463.60" width="1.40" height="10.00" fill="#202020"/>
<rect x="282.80" y="463.60" width="1.40" height="10.00" fill="#202020"/>
<rect x="286.60" y="463.60" width="1.40" height="10.00" fill="#202020"/>
<line x1="199.90" y1="463.90" x2="199.90" y2="469.60" stroke="#9c9c9c" stroke-width="1.25"/>
<g filter="url(#mblur)"><path d="M199.90,469.00 C201.30,471.10 203.50,475.60 204.90,478.80 C206.30,481.60 207.50,485.10 208.70,489.80 L191.10,489.80 C192.30,485.10 193.50,481.60 194.90,478.80 C196.30,475.60 198.50,471.10 199.90,469.00Z" fill="url(#mg)"/><path d="M199.90,469.00 C201.30,471.10 203.50,475.60 204.90,478.80 C206.30,481.60 207.50,485.10 208.70,489.80 L191.10,489.80 C192.30,485.10 193.50,481.60 194.90,478.80 C196.30,475.60 198.50,471.10 199.90,469.00Z" fill="url(#mg2)"/></g>
<path d="M199.90,469.00 C201.30,471.10 203.50,475.60 204.90,478.80 C206.30,481.60 207.50,485.10 208.70,489.80 L191.10,489.80 C192.30,485.10 193.50,481.60 194.90,478.80 C196.30,475.60 198.50,471.10 199.90,469.00Z" fill="#000" filter="url(#mtex)" opacity="0.24"/>
<line x1="218.90" y1="463.90" x2="218.90" y2="469.60" stroke="#9c9c9c" stroke-width="1.25"/>
<g filter="url(#mblur)"><path d="M218.90,469.00 C220.30,471.10 222.50,475.60 223.90,478.80 C225.90,481.60 227.10,485.10 228.30,489.80 L210.70,489.80 C211.90,485.10 213.10,481.60 213.90,478.80 C215.30,475.60 217.50,471.10 218.90,469.00Z" fill="url(#mg)"/><path d="M218.90,469.00 C220.30,471.10 222.50,475.60 223.90,478.80 C225.90,481.60 227.10,485.10 228.30,489.80 L210.70,489.80 C211.90,485.10 213.10,481.60 213.90,478.80 C215.30,475.60 217.50,471.10 218.90,469.00Z" fill="url(#mg2)"/></g>
<path d="M218.90,469.00 C220.30,471.10 222.50,475.60 223.90,478.80 C225.90,481.60 227.10,485.10 228.30,489.80 L210.70,489.80 C211.90,485.10 213.10,481.60 213.90,478.80 C215.30,475.60 217.50,471.10 218.90,469.00Z" fill="#000" filter="url(#mtex)" opacity="0.24"/>
<line x1="237.70" y1="463.90" x2="237.70" y2="469.60" stroke="#9c9c9c" stroke-width="1.25"/>
<g filter="url(#mblur)"><path d="M237.70,469.00 C239.10,471.10 241.30,475.60 242.70,478.80 C243.50,481.60 244.70,485.10 245.90,489.80 L228.30,489.80 C229.50,485.10 230.70,481.60 232.70,478.80 C234.10,475.60 236.30,471.10 237.70,469.00Z" fill="url(#mg)"/><path d="M237.70,469.00 C239.10,471.10 241.30,475.60 242.70,478.80 C243.50,481.60 244.70,485.10 245.90,489.80 L228.30,489.80 C229.50,485.10 230.70,481.60 232.70,478.80 C234.10,475.60 236.30,471.10 237.70,469.00Z" fill="url(#mg2)"/></g>
<path d="M237.70,469.00 C239.10,471.10 241.30,475.60 242.70,478.80 C243.50,481.60 244.70,485.10 245.90,489.80 L228.30,489.80 C229.50,485.10 230.70,481.60 232.70,478.80 C234.10,475.60 236.30,471.10 237.70,469.00Z" fill="#000" filter="url(#mtex)" opacity="0.24"/>
<line x1="256.40" y1="463.90" x2="256.40" y2="469.60" stroke="#9c9c9c" stroke-width="1.25"/>
<g filter="url(#mblur)"><path d="M256.40,469.00 C257.80,471.10 260.00,475.60 261.40,478.80 C263.10,481.60 264.30,485.10 265.50,489.80 L247.90,489.80 C249.10,485.10 250.30,481.60 251.40,478.80 C252.80,475.60 255.00,471.10 256.40,469.00Z" fill="url(#mg)"/><path d="M256.40,469.00 C257.80,471.10 260.00,475.60 261.40,478.80 C263.10,481.60 264.30,485.10 265.50,489.80 L247.90,489.80 C249.10,485.10 250.30,481.60 251.40,478.80 C252.80,475.60 255.00,471.10 256.40,469.00Z" fill="url(#mg2)"/></g>
<path d="M256.40,469.00 C257.80,471.10 260.00,475.60 261.40,478.80 C263.10,481.60 264.30,485.10 265.50,489.80 L247.90,489.80 C249.10,485.10 250.30,481.60 251.40,478.80 C252.80,475.60 255.00,471.10 256.40,469.00Z" fill="#000" filter="url(#mtex)" opacity="0.24"/>
<line x1="275.10" y1="463.90" x2="275.10" y2="469.60" stroke="#9c9c9c" stroke-width="1.25"/>
<g filter="url(#mblur)"><path d="M275.10,469.00 C276.50,471.10 278.70,475.60 280.10,478.80 C281.20,481.60 282.40,485.10 283.60,489.80 L266.00,489.80 C267.20,485.10 268.40,481.60 270.10,478.80 C271.50,475.60 273.70,471.10 275.10,469.00Z" fill="url(#mg)"/><path d="M275.10,469.00 C276.50,471.10 278.70,475.60 280.10,478.80 C281.20,481.60 282.40,485.10 283.60,489.80 L266.00,489.80 C267.20,485.10 268.40,481.60 270.10,478.80 C271.50,475.60 273.70,471.10 275.10,469.00Z" fill="url(#mg2)"/></g>
<path d="M275.10,469.00 C276.50,471.10 278.70,475.60 280.10,478.80 C281.20,481.60 282.40,485.10 283.60,489.80 L266.00,489.80 C267.20,485.10 268.40,481.60 270.10,478.80 C271.50,475.60 273.70,471.10 275.10,469.00Z" fill="#000" filter="url(#mtex)" opacity="0.24"/>
<ellipse cx="199.40" cy="473.10" rx="1.10" ry="1.00" fill="url(#sigP)" filter="url(#sblur)"/>
<ellipse cx="219.10" cy="473.80" rx="1.10" ry="1.00" fill="url(#sigP)" filter="url(#sblur)"/>
<ellipse cx="237.70" cy="474.00" rx="1.10" ry="1.00" fill="url(#sigP)" filter="url(#sblur)"/>
<ellipse cx="256.80" cy="473.40" rx="1.10" ry="1.00" fill="url(#sigP)" filter="url(#sblur)"/>
<ellipse cx="275.70" cy="473.80" rx="1.10" ry="1.00" fill="url(#sigP)" filter="url(#sblur)"/>
</g>
<rect x="78.40" y="494.50" width="105.10" height="26.10" fill="#0b0b0b"/>
<g clip-path="url(#mr3)">
<rect x="81.60" y="494.50" width="1.40" height="10.00" fill="#202020"/>
<rect x="85.40" y="494.50" width="1.40" height="10.00" fill="#202020"/>
<rect x="100.60" y="494.50" width="1.40" height="10.00" fill="#202020"/>
<rect x="104.40" y="494.50" width="1.40" height="10.00" fill="#202020"/>
<rect x="119.60" y="494.50" width="1.40" height="10.00" fill="#202020"/>
<rect x="123.40" y="494.50" width="1.40" height="10.00" fill="#202020"/>
<rect x="138.60" y="494.50" width="1.40" height="10.00" fill="#202020"/>
<rect x="142.40" y="494.50" width="1.40" height="10.00" fill="#202020"/>
<rect x="157.60" y="494.50" width="1.40" height="10.00" fill="#202020"/>
<rect x="161.40" y="494.50" width="1.40" height="10.00" fill="#202020"/>
<rect x="176.60" y="494.50" width="1.40" height="10.00" fill="#202020"/>
<rect x="180.40" y="494.50" width="1.40" height="10.00" fill="#202020"/>
<line x1="93.70" y1="494.80" x2="93.70" y2="500.50" stroke="#9c9c9c" stroke-width="1.25"/>
<g filter="url(#mblur)"><path d="M93.70,499.90 C95.10,502.00 97.30,506.50 98.70,509.70 C100.10,512.50 101.30,516.00 102.50,520.60 L84.90,520.60 C86.10,516.00 87.30,512.50 88.70,509.70 C90.10,506.50 92.30,502.00 93.70,499.90Z" fill="url(#mg)"/><path d="M93.70,499.90 C95.10,502.00 97.30,506.50 98.70,509.70 C100.10,512.50 101.30,516.00 102.50,520.60 L84.90,520.60 C86.10,516.00 87.30,512.50 88.70,509.70 C90.10,506.50 92.30,502.00 93.70,499.90Z" fill="url(#mg2)"/></g>
<path d="M93.70,499.90 C95.10,502.00 97.30,506.50 98.70,509.70 C100.10,512.50 101.30,516.00 102.50,520.60 L84.90,520.60 C86.10,516.00 87.30,512.50 88.70,509.70 C90.10,506.50 92.30,502.00 93.70,499.90Z" fill="#000" filter="url(#mtex)" opacity="0.24"/>
<line x1="112.70" y1="494.80" x2="112.70" y2="500.50" stroke="#9c9c9c" stroke-width="1.25"/>
<g filter="url(#mblur)"><path d="M112.70,499.90 C114.10,502.00 116.30,506.50 117.70,509.70 C119.70,512.50 120.90,516.00 122.10,520.60 L104.50,520.60 C105.70,516.00 106.90,512.50 107.70,509.70 C109.10,506.50 111.30,502.00 112.70,499.90Z" fill="url(#mg)"/><path d="M112.70,499.90 C114.10,502.00 116.30,506.50 117.70,509.70 C119.70,512.50 120.90,516.00 122.10,520.60 L104.50,520.60 C105.70,516.00 106.90,512.50 107.70,509.70 C109.10,506.50 111.30,502.00 112.70,499.90Z" fill="url(#mg2)"/></g>
<path d="M112.70,499.90 C114.10,502.00 116.30,506.50 117.70,509.70 C119.70,512.50 120.90,516.00 122.10,520.60 L104.50,520.60 C105.70,516.00 106.90,512.50 107.70,509.70 C109.10,506.50 111.30,502.00 112.70,499.90Z" fill="#000" filter="url(#mtex)" opacity="0.24"/>
<line x1="131.50" y1="494.80" x2="131.50" y2="500.50" stroke="#9c9c9c" stroke-width="1.25"/>
<g filter="url(#mblur)"><path d="M131.50,499.90 C132.90,502.00 135.10,506.50 136.50,509.70 C137.30,512.50 138.50,516.00 139.70,520.60 L122.10,520.60 C123.30,516.00 124.50,512.50 126.50,509.70 C127.90,506.50 130.10,502.00 131.50,499.90Z" fill="url(#mg)"/><path d="M131.50,499.90 C132.90,502.00 135.10,506.50 136.50,509.70 C137.30,512.50 138.50,516.00 139.70,520.60 L122.10,520.60 C123.30,516.00 124.50,512.50 126.50,509.70 C127.90,506.50 130.10,502.00 131.50,499.90Z" fill="url(#mg2)"/></g>
<path d="M131.50,499.90 C132.90,502.00 135.10,506.50 136.50,509.70 C137.30,512.50 138.50,516.00 139.70,520.60 L122.10,520.60 C123.30,516.00 124.50,512.50 126.50,509.70 C127.90,506.50 130.10,502.00 131.50,499.90Z" fill="#000" filter="url(#mtex)" opacity="0.24"/>
<line x1="150.00" y1="494.80" x2="150.00" y2="500.50" stroke="#9c9c9c" stroke-width="1.25"/>
<g filter="url(#mblur)"><path d="M150.00,499.90 C151.40,502.00 153.60,506.50 155.00,509.70 C156.70,512.50 157.90,516.00 159.10,520.60 L141.50,520.60 C142.70,516.00 143.90,512.50 145.00,509.70 C146.40,506.50 148.60,502.00 150.00,499.90Z" fill="url(#mg)"/><path d="M150.00,499.90 C151.40,502.00 153.60,506.50 155.00,509.70 C156.70,512.50 157.90,516.00 159.10,520.60 L141.50,520.60 C142.70,516.00 143.90,512.50 145.00,509.70 C146.40,506.50 148.60,502.00 150.00,499.90Z" fill="url(#mg2)"/></g>
<path d="M150.00,499.90 C151.40,502.00 153.60,506.50 155.00,509.70 C156.70,512.50 157.90,516.00 159.10,520.60 L141.50,520.60 C142.70,516.00 143.90,512.50 145.00,509.70 C146.40,506.50 148.60,502.00 150.00,499.90Z" fill="#000" filter="url(#mtex)" opacity="0.24"/>
<line x1="168.60" y1="494.80" x2="168.60" y2="500.50" stroke="#9c9c9c" stroke-width="1.25"/>
<g filter="url(#mblur)"><path d="M168.60,499.90 C170.00,502.00 172.20,506.50 173.60,509.70 C174.70,512.50 175.90,516.00 177.10,520.60 L159.50,520.60 C160.70,516.00 161.90,512.50 163.60,509.70 C165.00,506.50 167.20,502.00 168.60,499.90Z" fill="url(#mg)"/><path d="M168.60,499.90 C170.00,502.00 172.20,506.50 173.60,509.70 C174.70,512.50 175.90,516.00 177.10,520.60 L159.50,520.60 C160.70,516.00 161.90,512.50 163.60,509.70 C165.00,506.50 167.20,502.00 168.60,499.90Z" fill="url(#mg2)"/></g>
<path d="M168.60,499.90 C170.00,502.00 172.20,506.50 173.60,509.70 C174.70,512.50 175.90,516.00 177.10,520.60 L159.50,520.60 C160.70,516.00 161.90,512.50 163.60,509.70 C165.00,506.50 167.20,502.00 168.60,499.90Z" fill="#000" filter="url(#mtex)" opacity="0.24"/>
<ellipse cx="93.30" cy="506.70" rx="2.60" ry="2.20" fill="url(#sigP)" filter="url(#sblur)"/>
<ellipse cx="113.30" cy="505.70" rx="3.20" ry="2.00" fill="url(#sigP)" filter="url(#sblur)"/>
<ellipse cx="131.70" cy="506.70" rx="3.00" ry="2.20" fill="url(#sigP)" filter="url(#sblur)"/>
<ellipse cx="150.50" cy="506.50" rx="2.20" ry="1.80" fill="url(#sigP)" filter="url(#sblur)"/>
<ellipse cx="168.30" cy="506.90" rx="2.00" ry="1.70" fill="url(#sigP)" filter="url(#sblur)"/>
</g>
<rect x="186.40" y="494.50" width="105.00" height="26.10" fill="#0b0b0b"/>
<g clip-path="url(#mr4)">
<rect x="187.80" y="494.50" width="1.40" height="10.00" fill="#202020"/>
<rect x="191.60" y="494.50" width="1.40" height="10.00" fill="#202020"/>
<rect x="206.80" y="494.50" width="1.40" height="10.00" fill="#202020"/>
<rect x="210.60" y="494.50" width="1.40" height="10.00" fill="#202020"/>
<rect x="225.80" y="494.50" width="1.40" height="10.00" fill="#202020"/>
<rect x="229.60" y="494.50" width="1.40" height="10.00" fill="#202020"/>
<rect x="244.80" y="494.50" width="1.40" height="10.00" fill="#202020"/>
<rect x="248.60" y="494.50" width="1.40" height="10.00" fill="#202020"/>
<rect x="263.80" y="494.50" width="1.40" height="10.00" fill="#202020"/>
<rect x="267.60" y="494.50" width="1.40" height="10.00" fill="#202020"/>
<rect x="282.80" y="494.50" width="1.40" height="10.00" fill="#202020"/>
<rect x="286.60" y="494.50" width="1.40" height="10.00" fill="#202020"/>
<line x1="199.90" y1="494.80" x2="199.90" y2="500.50" stroke="#9c9c9c" stroke-width="1.25"/>
<g filter="url(#mblur)"><path d="M199.90,499.90 C201.30,502.00 203.50,506.50 204.90,509.70 C206.30,512.50 207.50,516.00 208.70,520.60 L191.10,520.60 C192.30,516.00 193.50,512.50 194.90,509.70 C196.30,506.50 198.50,502.00 199.90,499.90Z" fill="url(#mg)"/><path d="M199.90,499.90 C201.30,502.00 203.50,506.50 204.90,509.70 C206.30,512.50 207.50,516.00 208.70,520.60 L191.10,520.60 C192.30,516.00 193.50,512.50 194.90,509.70 C196.30,506.50 198.50,502.00 199.90,499.90Z" fill="url(#mg2)"/></g>
<path d="M199.90,499.90 C201.30,502.00 203.50,506.50 204.90,509.70 C206.30,512.50 207.50,516.00 208.70,520.60 L191.10,520.60 C192.30,516.00 193.50,512.50 194.90,509.70 C196.30,506.50 198.50,502.00 199.90,499.90Z" fill="#000" filter="url(#mtex)" opacity="0.24"/>
<line x1="218.90" y1="494.80" x2="218.90" y2="500.50" stroke="#9c9c9c" stroke-width="1.25"/>
<g filter="url(#mblur)"><path d="M218.90,499.90 C220.30,502.00 222.50,506.50 223.90,509.70 C225.90,512.50 227.10,516.00 228.30,520.60 L210.70,520.60 C211.90,516.00 213.10,512.50 213.90,509.70 C215.30,506.50 217.50,502.00 218.90,499.90Z" fill="url(#mg)"/><path d="M218.90,499.90 C220.30,502.00 222.50,506.50 223.90,509.70 C225.90,512.50 227.10,516.00 228.30,520.60 L210.70,520.60 C211.90,516.00 213.10,512.50 213.90,509.70 C215.30,506.50 217.50,502.00 218.90,499.90Z" fill="url(#mg2)"/></g>
<path d="M218.90,499.90 C220.30,502.00 222.50,506.50 223.90,509.70 C225.90,512.50 227.10,516.00 228.30,520.60 L210.70,520.60 C211.90,516.00 213.10,512.50 213.90,509.70 C215.30,506.50 217.50,502.00 218.90,499.90Z" fill="#000" filter="url(#mtex)" opacity="0.24"/>
<line x1="237.70" y1="494.80" x2="237.70" y2="500.50" stroke="#9c9c9c" stroke-width="1.25"/>
<g filter="url(#mblur)"><path d="M237.70,499.90 C239.10,502.00 241.30,506.50 242.70,509.70 C243.50,512.50 244.70,516.00 245.90,520.60 L228.30,520.60 C229.50,516.00 230.70,512.50 232.70,509.70 C234.10,506.50 236.30,502.00 237.70,499.90Z" fill="url(#mg)"/><path d="M237.70,499.90 C239.10,502.00 241.30,506.50 242.70,509.70 C243.50,512.50 244.70,516.00 245.90,520.60 L228.30,520.60 C229.50,516.00 230.70,512.50 232.70,509.70 C234.10,506.50 236.30,502.00 237.70,499.90Z" fill="url(#mg2)"/></g>
<path d="M237.70,499.90 C239.10,502.00 241.30,506.50 242.70,509.70 C243.50,512.50 244.70,516.00 245.90,520.60 L228.30,520.60 C229.50,516.00 230.70,512.50 232.70,509.70 C234.10,506.50 236.30,502.00 237.70,499.90Z" fill="#000" filter="url(#mtex)" opacity="0.24"/>
<line x1="256.40" y1="494.80" x2="256.40" y2="500.50" stroke="#9c9c9c" stroke-width="1.25"/>
<g filter="url(#mblur)"><path d="M256.40,499.90 C257.80,502.00 260.00,506.50 261.40,509.70 C263.10,512.50 264.30,516.00 265.50,520.60 L247.90,520.60 C249.10,516.00 250.30,512.50 251.40,509.70 C252.80,506.50 255.00,502.00 256.40,499.90Z" fill="url(#mg)"/><path d="M256.40,499.90 C257.80,502.00 260.00,506.50 261.40,509.70 C263.10,512.50 264.30,516.00 265.50,520.60 L247.90,520.60 C249.10,516.00 250.30,512.50 251.40,509.70 C252.80,506.50 255.00,502.00 256.40,499.90Z" fill="url(#mg2)"/></g>
<path d="M256.40,499.90 C257.80,502.00 260.00,506.50 261.40,509.70 C263.10,512.50 264.30,516.00 265.50,520.60 L247.90,520.60 C249.10,516.00 250.30,512.50 251.40,509.70 C252.80,506.50 255.00,502.00 256.40,499.90Z" fill="#000" filter="url(#mtex)" opacity="0.24"/>
<line x1="275.10" y1="494.80" x2="275.10" y2="500.50" stroke="#9c9c9c" stroke-width="1.25"/>
<g filter="url(#mblur)"><path d="M275.10,499.90 C276.50,502.00 278.70,506.50 280.10,509.70 C281.20,512.50 282.40,516.00 283.60,520.60 L266.00,520.60 C267.20,516.00 268.40,512.50 270.10,509.70 C271.50,506.50 273.70,502.00 275.10,499.90Z" fill="url(#mg)"/><path d="M275.10,499.90 C276.50,502.00 278.70,506.50 280.10,509.70 C281.20,512.50 282.40,516.00 283.60,520.60 L266.00,520.60 C267.20,516.00 268.40,512.50 270.10,509.70 C271.50,506.50 273.70,502.00 275.10,499.90Z" fill="url(#mg2)"/></g>
<path d="M275.10,499.90 C276.50,502.00 278.70,506.50 280.10,509.70 C281.20,512.50 282.40,516.00 283.60,520.60 L266.00,520.60 C267.20,516.00 268.40,512.50 270.10,509.70 C271.50,506.50 273.70,502.00 275.10,499.90Z" fill="#000" filter="url(#mtex)" opacity="0.24"/>
<ellipse cx="199.10" cy="507.50" rx="3.00" ry="2.60" fill="url(#sigP)" filter="url(#sblur)"/>
<ellipse cx="219.20" cy="507.00" rx="1.10" ry="1.00" fill="url(#sigP)" filter="url(#sblur)"/>
<ellipse cx="237.90" cy="507.30" rx="1.10" ry="1.00" fill="url(#sigP)" filter="url(#sblur)"/>
<ellipse cx="256.40" cy="507.10" rx="1.10" ry="1.00" fill="url(#sigP)" filter="url(#sblur)"/>
<ellipse cx="274.60" cy="507.50" rx="1.10" ry="1.00" fill="url(#sigP)" filter="url(#sblur)"/>
</g>
<rect x="78.40" y="525.30" width="105.10" height="26.00" fill="#0b0b0b"/>
<g clip-path="url(#mr5)">
<rect x="81.60" y="525.30" width="1.40" height="10.00" fill="#202020"/>
<rect x="85.40" y="525.30" width="1.40" height="10.00" fill="#202020"/>
<rect x="100.60" y="525.30" width="1.40" height="10.00" fill="#202020"/>
<rect x="104.40" y="525.30" width="1.40" height="10.00" fill="#202020"/>
<rect x="119.60" y="525.30" width="1.40" height="10.00" fill="#202020"/>
<rect x="123.40" y="525.30" width="1.40" height="10.00" fill="#202020"/>
<rect x="138.60" y="525.30" width="1.40" height="10.00" fill="#202020"/>
<rect x="142.40" y="525.30" width="1.40" height="10.00" fill="#202020"/>
<rect x="157.60" y="525.30" width="1.40" height="10.00" fill="#202020"/>
<rect x="161.40" y="525.30" width="1.40" height="10.00" fill="#202020"/>
<rect x="176.60" y="525.30" width="1.40" height="10.00" fill="#202020"/>
<rect x="180.40" y="525.30" width="1.40" height="10.00" fill="#202020"/>
<line x1="93.70" y1="525.60" x2="93.70" y2="531.30" stroke="#9c9c9c" stroke-width="1.25"/>
<g filter="url(#mblur)"><path d="M93.70,530.70 C95.10,532.80 97.30,537.30 98.70,540.50 C100.10,543.30 101.30,546.80 102.50,551.30 L84.90,551.30 C86.10,546.80 87.30,543.30 88.70,540.50 C90.10,537.30 92.30,532.80 93.70,530.70Z" fill="url(#mg)"/><path d="M93.70,530.70 C95.10,532.80 97.30,537.30 98.70,540.50 C100.10,543.30 101.30,546.80 102.50,551.30 L84.90,551.30 C86.10,546.80 87.30,543.30 88.70,540.50 C90.10,537.30 92.30,532.80 93.70,530.70Z" fill="url(#mg2)"/></g>
<path d="M93.70,530.70 C95.10,532.80 97.30,537.30 98.70,540.50 C100.10,543.30 101.30,546.80 102.50,551.30 L84.90,551.30 C86.10,546.80 87.30,543.30 88.70,540.50 C90.10,537.30 92.30,532.80 93.70,530.70Z" fill="#000" filter="url(#mtex)" opacity="0.24"/>
<line x1="112.70" y1="525.60" x2="112.70" y2="531.30" stroke="#9c9c9c" stroke-width="1.25"/>
<g filter="url(#mblur)"><path d="M112.70,530.70 C114.10,532.80 116.30,537.30 117.70,540.50 C119.70,543.30 120.90,546.80 122.10,551.30 L104.50,551.30 C105.70,546.80 106.90,543.30 107.70,540.50 C109.10,537.30 111.30,532.80 112.70,530.70Z" fill="url(#mg)"/><path d="M112.70,530.70 C114.10,532.80 116.30,537.30 117.70,540.50 C119.70,543.30 120.90,546.80 122.10,551.30 L104.50,551.30 C105.70,546.80 106.90,543.30 107.70,540.50 C109.10,537.30 111.30,532.80 112.70,530.70Z" fill="url(#mg2)"/></g>
<path d="M112.70,530.70 C114.10,532.80 116.30,537.30 117.70,540.50 C119.70,543.30 120.90,546.80 122.10,551.30 L104.50,551.30 C105.70,546.80 106.90,543.30 107.70,540.50 C109.10,537.30 111.30,532.80 112.70,530.70Z" fill="#000" filter="url(#mtex)" opacity="0.24"/>
<line x1="131.50" y1="525.60" x2="131.50" y2="531.30" stroke="#9c9c9c" stroke-width="1.25"/>
<g filter="url(#mblur)"><path d="M131.50,530.70 C132.90,532.80 135.10,537.30 136.50,540.50 C137.30,543.30 138.50,546.80 139.70,551.30 L122.10,551.30 C123.30,546.80 124.50,543.30 126.50,540.50 C127.90,537.30 130.10,532.80 131.50,530.70Z" fill="url(#mg)"/><path d="M131.50,530.70 C132.90,532.80 135.10,537.30 136.50,540.50 C137.30,543.30 138.50,546.80 139.70,551.30 L122.10,551.30 C123.30,546.80 124.50,543.30 126.50,540.50 C127.90,537.30 130.10,532.80 131.50,530.70Z" fill="url(#mg2)"/></g>
<path d="M131.50,530.70 C132.90,532.80 135.10,537.30 136.50,540.50 C137.30,543.30 138.50,546.80 139.70,551.30 L122.10,551.30 C123.30,546.80 124.50,543.30 126.50,540.50 C127.90,537.30 130.10,532.80 131.50,530.70Z" fill="#000" filter="url(#mtex)" opacity="0.24"/>
<line x1="150.00" y1="525.60" x2="150.00" y2="531.30" stroke="#9c9c9c" stroke-width="1.25"/>
<g filter="url(#mblur)"><path d="M150.00,530.70 C151.40,532.80 153.60,537.30 155.00,540.50 C156.70,543.30 157.90,546.80 159.10,551.30 L141.50,551.30 C142.70,546.80 143.90,543.30 145.00,540.50 C146.40,537.30 148.60,532.80 150.00,530.70Z" fill="url(#mg)"/><path d="M150.00,530.70 C151.40,532.80 153.60,537.30 155.00,540.50 C156.70,543.30 157.90,546.80 159.10,551.30 L141.50,551.30 C142.70,546.80 143.90,543.30 145.00,540.50 C146.40,537.30 148.60,532.80 150.00,530.70Z" fill="url(#mg2)"/></g>
<path d="M150.00,530.70 C151.40,532.80 153.60,537.30 155.00,540.50 C156.70,543.30 157.90,546.80 159.10,551.30 L141.50,551.30 C142.70,546.80 143.90,543.30 145.00,540.50 C146.40,537.30 148.60,532.80 150.00,530.70Z" fill="#000" filter="url(#mtex)" opacity="0.24"/>
<line x1="168.60" y1="525.60" x2="168.60" y2="531.30" stroke="#9c9c9c" stroke-width="1.25"/>
<g filter="url(#mblur)"><path d="M168.60,530.70 C170.00,532.80 172.20,537.30 173.60,540.50 C174.70,543.30 175.90,546.80 177.10,551.30 L159.50,551.30 C160.70,546.80 161.90,543.30 163.60,540.50 C165.00,537.30 167.20,532.80 168.60,530.70Z" fill="url(#mg)"/><path d="M168.60,530.70 C170.00,532.80 172.20,537.30 173.60,540.50 C174.70,543.30 175.90,546.80 177.10,551.30 L159.50,551.30 C160.70,546.80 161.90,543.30 163.60,540.50 C165.00,537.30 167.20,532.80 168.60,530.70Z" fill="url(#mg2)"/></g>
<path d="M168.60,530.70 C170.00,532.80 172.20,537.30 173.60,540.50 C174.70,543.30 175.90,546.80 177.10,551.30 L159.50,551.30 C160.70,546.80 161.90,543.30 163.60,540.50 C165.00,537.30 167.20,532.80 168.60,530.70Z" fill="#000" filter="url(#mtex)" opacity="0.24"/>
<ellipse cx="93.70" cy="541.10" rx="5.40" ry="7.20" fill="url(#sigR)" filter="url(#sblur)"/>
<ellipse cx="113.20" cy="541.50" rx="6.00" ry="7.60" fill="url(#sigR)" filter="url(#sblur)"/>
<ellipse cx="132.50" cy="540.30" rx="5.80" ry="7.00" fill="url(#sigR)" filter="url(#sblur)"/>
<ellipse cx="150.60" cy="540.70" rx="5.60" ry="7.20" fill="url(#sigR)" filter="url(#sblur)"/>
<ellipse cx="168.80" cy="539.70" rx="4.80" ry="5.80" fill="url(#sigG)" filter="url(#sblur)"/>
</g>
<rect x="186.40" y="525.30" width="105.00" height="26.00" fill="#0b0b0b"/>
<g clip-path="url(#mr6)">
<rect x="187.80" y="525.30" width="1.40" height="10.00" fill="#202020"/>
<rect x="191.60" y="525.30" width="1.40" height="10.00" fill="#202020"/>
<rect x="206.80" y="525.30" width="1.40" height="10.00" fill="#202020"/>
<rect x="210.60" y="525.30" width="1.40" height="10.00" fill="#202020"/>
<rect x="225.80" y="525.30" width="1.40" height="10.00" fill="#202020"/>
<rect x="229.60" y="525.30" width="1.40" height="10.00" fill="#202020"/>
<rect x="244.80" y="525.30" width="1.40" height="10.00" fill="#202020"/>
<rect x="248.60" y="525.30" width="1.40" height="10.00" fill="#202020"/>
<rect x="263.80" y="525.30" width="1.40" height="10.00" fill="#202020"/>
<rect x="267.60" y="525.30" width="1.40" height="10.00" fill="#202020"/>
<rect x="282.80" y="525.30" width="1.40" height="10.00" fill="#202020"/>
<rect x="286.60" y="525.30" width="1.40" height="10.00" fill="#202020"/>
<line x1="199.90" y1="525.60" x2="199.90" y2="531.30" stroke="#9c9c9c" stroke-width="1.25"/>
<g filter="url(#mblur)"><path d="M199.90,530.70 C201.30,532.80 203.50,537.30 204.90,540.50 C206.30,543.30 207.50,546.80 208.70,551.30 L191.10,551.30 C192.30,546.80 193.50,543.30 194.90,540.50 C196.30,537.30 198.50,532.80 199.90,530.70Z" fill="url(#mg)"/><path d="M199.90,530.70 C201.30,532.80 203.50,537.30 204.90,540.50 C206.30,543.30 207.50,546.80 208.70,551.30 L191.10,551.30 C192.30,546.80 193.50,543.30 194.90,540.50 C196.30,537.30 198.50,532.80 199.90,530.70Z" fill="url(#mg2)"/></g>
<path d="M199.90,530.70 C201.30,532.80 203.50,537.30 204.90,540.50 C206.30,543.30 207.50,546.80 208.70,551.30 L191.10,551.30 C192.30,546.80 193.50,543.30 194.90,540.50 C196.30,537.30 198.50,532.80 199.90,530.70Z" fill="#000" filter="url(#mtex)" opacity="0.24"/>
<line x1="218.90" y1="525.60" x2="218.90" y2="531.30" stroke="#9c9c9c" stroke-width="1.25"/>
<g filter="url(#mblur)"><path d="M218.90,530.70 C220.30,532.80 222.50,537.30 223.90,540.50 C225.90,543.30 227.10,546.80 228.30,551.30 L210.70,551.30 C211.90,546.80 213.10,543.30 213.90,540.50 C215.30,537.30 217.50,532.80 218.90,530.70Z" fill="url(#mg)"/><path d="M218.90,530.70 C220.30,532.80 222.50,537.30 223.90,540.50 C225.90,543.30 227.10,546.80 228.30,551.30 L210.70,551.30 C211.90,546.80 213.10,543.30 213.90,540.50 C215.30,537.30 217.50,532.80 218.90,530.70Z" fill="url(#mg2)"/></g>
<path d="M218.90,530.70 C220.30,532.80 222.50,537.30 223.90,540.50 C225.90,543.30 227.10,546.80 228.30,551.30 L210.70,551.30 C211.90,546.80 213.10,543.30 213.90,540.50 C215.30,537.30 217.50,532.80 218.90,530.70Z" fill="#000" filter="url(#mtex)" opacity="0.24"/>
<line x1="237.70" y1="525.60" x2="237.70" y2="531.30" stroke="#9c9c9c" stroke-width="1.25"/>
<g filter="url(#mblur)"><path d="M237.70,530.70 C239.10,532.80 241.30,537.30 242.70,540.50 C243.50,543.30 244.70,546.80 245.90,551.30 L228.30,551.30 C229.50,546.80 230.70,543.30 232.70,540.50 C234.10,537.30 236.30,532.80 237.70,530.70Z" fill="url(#mg)"/><path d="M237.70,530.70 C239.10,532.80 241.30,537.30 242.70,540.50 C243.50,543.30 244.70,546.80 245.90,551.30 L228.30,551.30 C229.50,546.80 230.70,543.30 232.70,540.50 C234.10,537.30 236.30,532.80 237.70,530.70Z" fill="url(#mg2)"/></g>
<path d="M237.70,530.70 C239.10,532.80 241.30,537.30 242.70,540.50 C243.50,543.30 244.70,546.80 245.90,551.30 L228.30,551.30 C229.50,546.80 230.70,543.30 232.70,540.50 C234.10,537.30 236.30,532.80 237.70,530.70Z" fill="#000" filter="url(#mtex)" opacity="0.24"/>
<line x1="256.40" y1="525.60" x2="256.40" y2="531.30" stroke="#9c9c9c" stroke-width="1.25"/>
<g filter="url(#mblur)"><path d="M256.40,530.70 C257.80,532.80 260.00,537.30 261.40,540.50 C263.10,543.30 264.30,546.80 265.50,551.30 L247.90,551.30 C249.10,546.80 250.30,543.30 251.40,540.50 C252.80,537.30 255.00,532.80 256.40,530.70Z" fill="url(#mg)"/><path d="M256.40,530.70 C257.80,532.80 260.00,537.30 261.40,540.50 C263.10,543.30 264.30,546.80 265.50,551.30 L247.90,551.30 C249.10,546.80 250.30,543.30 251.40,540.50 C252.80,537.30 255.00,532.80 256.40,530.70Z" fill="url(#mg2)"/></g>
<path d="M256.40,530.70 C257.80,532.80 260.00,537.30 261.40,540.50 C263.10,543.30 264.30,546.80 265.50,551.30 L247.90,551.30 C249.10,546.80 250.30,543.30 251.40,540.50 C252.80,537.30 255.00,532.80 256.40,530.70Z" fill="#000" filter="url(#mtex)" opacity="0.24"/>
<line x1="275.10" y1="525.60" x2="275.10" y2="531.30" stroke="#9c9c9c" stroke-width="1.25"/>
<g filter="url(#mblur)"><path d="M275.10,530.70 C276.50,532.80 278.70,537.30 280.10,540.50 C281.20,543.30 282.40,546.80 283.60,551.30 L266.00,551.30 C267.20,546.80 268.40,543.30 270.10,540.50 C271.50,537.30 273.70,532.80 275.10,530.70Z" fill="url(#mg)"/><path d="M275.10,530.70 C276.50,532.80 278.70,537.30 280.10,540.50 C281.20,543.30 282.40,546.80 283.60,551.30 L266.00,551.30 C267.20,546.80 268.40,543.30 270.10,540.50 C271.50,537.30 273.70,532.80 275.10,530.70Z" fill="url(#mg2)"/></g>
<path d="M275.10,530.70 C276.50,532.80 278.70,537.30 280.10,540.50 C281.20,543.30 282.40,546.80 283.60,551.30 L266.00,551.30 C267.20,546.80 268.40,543.30 270.10,540.50 C271.50,537.30 273.70,532.80 275.10,530.70Z" fill="#000" filter="url(#mtex)" opacity="0.24"/>
<ellipse cx="199.90" cy="536.80" rx="2.80" ry="2.00" fill="url(#sigB)" filter="url(#sblur)"/>
<ellipse cx="219.10" cy="539.80" rx="4.40" ry="5.40" fill="url(#sigG)" filter="url(#sblur)"/>
<ellipse cx="238.10" cy="538.30" rx="2.80" ry="2.40" fill="url(#sigB)" filter="url(#sblur)"/>
<ellipse cx="256.80" cy="537.80" rx="3.60" ry="3.80" fill="url(#sigB)" filter="url(#sblur)"/>
<ellipse cx="275.30" cy="537.30" rx="1.10" ry="1.00" fill="url(#sigP)" filter="url(#sblur)"/>
</g>
<rect x="186.40" y="552.50" width="105.00" height="26.10" fill="#0b0b0b"/>
<g clip-path="url(#mr7)">
<rect x="187.80" y="552.50" width="1.40" height="10.00" fill="#202020"/>
<rect x="191.60" y="552.50" width="1.40" height="10.00" fill="#202020"/>
<rect x="206.80" y="552.50" width="1.40" height="10.00" fill="#202020"/>
<rect x="210.60" y="552.50" width="1.40" height="10.00" fill="#202020"/>
<rect x="225.80" y="552.50" width="1.40" height="10.00" fill="#202020"/>
<rect x="229.60" y="552.50" width="1.40" height="10.00" fill="#202020"/>
<rect x="244.80" y="552.50" width="1.40" height="10.00" fill="#202020"/>
<rect x="248.60" y="552.50" width="1.40" height="10.00" fill="#202020"/>
<rect x="263.80" y="552.50" width="1.40" height="10.00" fill="#202020"/>
<rect x="267.60" y="552.50" width="1.40" height="10.00" fill="#202020"/>
<rect x="282.80" y="552.50" width="1.40" height="10.00" fill="#202020"/>
<rect x="286.60" y="552.50" width="1.40" height="10.00" fill="#202020"/>
<line x1="199.90" y1="552.80" x2="199.90" y2="558.50" stroke="#9c9c9c" stroke-width="1.25"/>
<g filter="url(#mblur)"><path d="M199.90,557.90 C201.30,560.00 203.50,564.50 204.90,567.70 C206.30,570.50 207.50,574.00 208.70,578.60 L191.10,578.60 C192.30,574.00 193.50,570.50 194.90,567.70 C196.30,564.50 198.50,560.00 199.90,557.90Z" fill="url(#mg)"/><path d="M199.90,557.90 C201.30,560.00 203.50,564.50 204.90,567.70 C206.30,570.50 207.50,574.00 208.70,578.60 L191.10,578.60 C192.30,574.00 193.50,570.50 194.90,567.70 C196.30,564.50 198.50,560.00 199.90,557.90Z" fill="url(#mg2)"/></g>
<path d="M199.90,557.90 C201.30,560.00 203.50,564.50 204.90,567.70 C206.30,570.50 207.50,574.00 208.70,578.60 L191.10,578.60 C192.30,574.00 193.50,570.50 194.90,567.70 C196.30,564.50 198.50,560.00 199.90,557.90Z" fill="#000" filter="url(#mtex)" opacity="0.24"/>
<line x1="218.90" y1="552.80" x2="218.90" y2="558.50" stroke="#9c9c9c" stroke-width="1.25"/>
<line x1="237.70" y1="552.80" x2="237.70" y2="558.50" stroke="#9c9c9c" stroke-width="1.25"/>
<g filter="url(#mblur)"><path d="M237.70,557.90 C239.10,560.00 241.30,564.50 242.70,567.70 C243.50,570.50 244.70,574.00 245.90,578.60 L228.30,578.60 C229.50,574.00 230.70,570.50 232.70,567.70 C234.10,564.50 236.30,560.00 237.70,557.90Z" fill="url(#mg)"/><path d="M237.70,557.90 C239.10,560.00 241.30,564.50 242.70,567.70 C243.50,570.50 244.70,574.00 245.90,578.60 L228.30,578.60 C229.50,574.00 230.70,570.50 232.70,567.70 C234.10,564.50 236.30,560.00 237.70,557.90Z" fill="url(#mg2)"/></g>
<path d="M237.70,557.90 C239.10,560.00 241.30,564.50 242.70,567.70 C243.50,570.50 244.70,574.00 245.90,578.60 L228.30,578.60 C229.50,574.00 230.70,570.50 232.70,567.70 C234.10,564.50 236.30,560.00 237.70,557.90Z" fill="#000" filter="url(#mtex)" opacity="0.24"/>
<line x1="256.40" y1="552.80" x2="256.40" y2="558.50" stroke="#9c9c9c" stroke-width="1.25"/>
<g filter="url(#mblur)"><path d="M256.40,557.90 C257.80,560.00 260.00,564.50 261.40,567.70 C263.10,570.50 264.30,574.00 265.50,578.60 L247.90,578.60 C249.10,574.00 250.30,570.50 251.40,567.70 C252.80,564.50 255.00,560.00 256.40,557.90Z" fill="url(#mg)"/><path d="M256.40,557.90 C257.80,560.00 260.00,564.50 261.40,567.70 C263.10,570.50 264.30,574.00 265.50,578.60 L247.90,578.60 C249.10,574.00 250.30,570.50 251.40,567.70 C252.80,564.50 255.00,560.00 256.40,557.90Z" fill="url(#mg2)"/></g>
<path d="M256.40,557.90 C257.80,560.00 260.00,564.50 261.40,567.70 C263.10,570.50 264.30,574.00 265.50,578.60 L247.90,578.60 C249.10,574.00 250.30,570.50 251.40,567.70 C252.80,564.50 255.00,560.00 256.40,557.90Z" fill="#000" filter="url(#mtex)" opacity="0.24"/>
<line x1="275.10" y1="552.80" x2="275.10" y2="558.50" stroke="#9c9c9c" stroke-width="1.25"/>
<g filter="url(#mblur)"><path d="M275.10,557.90 C276.50,560.00 278.70,564.50 280.10,567.70 C281.20,570.50 282.40,574.00 283.60,578.60 L266.00,578.60 C267.20,574.00 268.40,570.50 270.10,567.70 C271.50,564.50 273.70,560.00 275.10,557.90Z" fill="url(#mg)"/><path d="M275.10,557.90 C276.50,560.00 278.70,564.50 280.10,567.70 C281.20,570.50 282.40,574.00 283.60,578.60 L266.00,578.60 C267.20,574.00 268.40,570.50 270.10,567.70 C271.50,564.50 273.70,560.00 275.10,557.90Z" fill="url(#mg2)"/></g>
<path d="M275.10,557.90 C276.50,560.00 278.70,564.50 280.10,567.70 C281.20,570.50 282.40,574.00 283.60,578.60 L266.00,578.60 C267.20,574.00 268.40,570.50 270.10,567.70 C271.50,564.50 273.70,560.00 275.10,557.90Z" fill="#000" filter="url(#mtex)" opacity="0.24"/>
<ellipse cx="199.10" cy="569.00" rx="5.20" ry="6.60" fill="url(#sigC)" filter="url(#sblur)"/>
<ellipse cx="239.30" cy="570.00" rx="5.20" ry="7.60" fill="url(#sigC)" filter="url(#sblur)"/>
<ellipse cx="257.60" cy="568.00" rx="5.40" ry="8.00" fill="url(#sigG)" filter="url(#sblur)"/>
<ellipse cx="274.60" cy="561.50" rx="1.10" ry="1.00" fill="url(#sigP)" filter="url(#sblur)"/>
</g>
<line x1="186.40" y1="551.90" x2="291.40" y2="551.90" stroke="#a8a8a8" stroke-width="0.9"/>
<text x="128.80" y="458.80" font-size="7.3" text-anchor="middle" fill="#1c1c1c" stroke="#1c1c1c">Vehicle</text>
<text x="239.40" y="458.80" font-size="7.3" text-anchor="middle" fill="#1c1c1c" stroke="#1c1c1c">JTE-607</text>
<text x="54.40" y="479.80" font-size="7.5" fill="#1c1c1c" stroke="#1c1c1c">day14</text>
<text x="54.40" y="510.60" font-size="7.5" fill="#1c1c1c" stroke="#1c1c1c">day21</text>
<text x="54.40" y="541.00" font-size="7.5" fill="#1c1c1c" stroke="#1c1c1c">day28</text>
<text x="54.40" y="571.90" font-size="7.5" fill="#1c1c1c" stroke="#1c1c1c">day35</text>
<path d="M305.3,482.4 H309.3 V566.8 L305.3,561.0Z" fill="url(#cbar)"/>
<text x="303.3" y="471.8" font-size="7.3" fill="#1c1c1c" stroke="#1c1c1c">1X10<tspan font-size="4.4" dy="-2.6">7</tspan></text>
<text x="303.3" y="578.4" font-size="7.3" fill="#1c1c1c" stroke="#1c1c1c">2X10<tspan font-size="4.4" dy="-2.6">6</tspan></text>
<rect x="30.40" y="637.00" width="64.40" height="47.60" fill="#000" filter="url(#fl7)"/>
<rect x="96.70" y="637.00" width="64.30" height="47.60" fill="#000" filter="url(#fl1)"/>
<rect x="162.60" y="637.00" width="64.70" height="47.60" fill="#000" filter="url(#fl3)"/>
<rect x="229.10" y="637.00" width="48.20" height="47.60" fill="#000" filter="url(#fl5)"/>
<rect x="78.20" y="681.00" width="14.60" height="2.10" fill="#fff"/>
<rect x="172.00" y="660.40" width="20.00" height="19.60" fill="none" stroke="#fff" stroke-width="1.5"/>
<line x1="192.00" y1="660.40" x2="227.50" y2="637.00" stroke="#fff" stroke-width="1.5"/>
<line x1="192.00" y1="680.00" x2="227.50" y2="684.60" stroke="#fff" stroke-width="1.5"/>
<rect x="30.40" y="685.90" width="64.40" height="47.80" fill="#000" filter="url(#fl8)"/>
<rect x="96.70" y="685.90" width="64.30" height="47.80" fill="#000" filter="url(#fl2)"/>
<rect x="162.60" y="685.90" width="64.70" height="47.80" fill="#000" filter="url(#fl4)"/>
<rect x="229.10" y="685.90" width="48.20" height="47.80" fill="#000" filter="url(#fl6)"/>
<rect x="78.20" y="729.30" width="14.60" height="2.10" fill="#fff"/>
<rect x="169.50" y="709.40" width="19.20" height="18.70" fill="none" stroke="#fff" stroke-width="1.5"/>
<line x1="188.70" y1="709.40" x2="227.50" y2="685.90" stroke="#fff" stroke-width="1.5"/>
<line x1="188.70" y1="728.10" x2="227.50" y2="733.70" stroke="#fff" stroke-width="1.5"/>
<line x1="29.90" y1="685.25" x2="277.80" y2="685.25" stroke="#fff" stroke-width="1.3"/>
<line x1="95.75" y1="636.50" x2="95.75" y2="734.20" stroke="#fff" stroke-width="1.4"/>
<line x1="161.80" y1="636.50" x2="161.80" y2="734.20" stroke="#fff" stroke-width="1.4"/>
<line x1="228.20" y1="636.50" x2="228.20" y2="734.20" stroke="#fff" stroke-width="1.4"/>
<rect x="28.90" y="635.50" width="249.90" height="1.50" fill="#fff"/>
<rect x="28.90" y="733.70" width="249.90" height="1.50" fill="#fff"/>
<rect x="28.90" y="635.50" width="1.50" height="99.70" fill="#fff"/>
<rect x="277.30" y="635.50" width="1.50" height="99.70" fill="#fff"/>
<text x="66.30" y="633.00" font-size="7.3" text-anchor="middle" fill="#3a48ac" stroke="#3a48ac">DAPI</text>
<text x="131.60" y="633.00" font-size="7.3" text-anchor="middle" fill="#22a860" stroke="#22a860">MYC</text>
<text x="198.70" y="633.00" font-size="7.3" text-anchor="middle" fill="#e8384a" stroke="#e8384a">Merge</text>
<text x="256.00" y="633.00" font-size="7.3" text-anchor="middle" fill="#e8384a" stroke="#e8384a">Merge</text>
<text x="28.00" y="673.30" font-size="7.4" text-anchor="end" fill="#1c1c1c" stroke="#1c1c1c">Vehicle</text>
<text x="27.90" y="714.20" font-size="7.45" text-anchor="end" fill="#1c1c1c" stroke="#1c1c1c">JTE-607</text>
<text x="32.00" y="743.00" font-size="7.4" fill="#1c1c1c" stroke="#1c1c1c">Scale bar: 75μm</text>
<rect x="30.40" y="763.70" width="64.40" height="47.90" fill="#000" filter="url(#fl15)"/>
<rect x="96.70" y="763.70" width="64.30" height="47.90" fill="#000" filter="url(#fl9)"/>
<rect x="162.60" y="763.70" width="64.70" height="47.90" fill="#000" filter="url(#fl11)"/>
<rect x="229.10" y="763.70" width="48.20" height="47.90" fill="#000" filter="url(#fl13)"/>
<rect x="78.20" y="806.40" width="14.60" height="2.10" fill="#fff"/>
<rect x="183.70" y="765.00" width="18.70" height="18.70" fill="none" stroke="#fff" stroke-width="1.5"/>
<line x1="202.40" y1="765.00" x2="227.50" y2="763.70" stroke="#fff" stroke-width="1.5"/>
<line x1="202.40" y1="783.70" x2="227.50" y2="811.60" stroke="#fff" stroke-width="1.5"/>
<rect x="30.40" y="813.00" width="64.40" height="48.30" fill="#000" filter="url(#fl16)"/>
<rect x="96.70" y="813.00" width="64.30" height="48.30" fill="#000" filter="url(#fl10)"/>
<rect x="162.60" y="813.00" width="64.70" height="48.30" fill="#000" filter="url(#fl12)"/>
<rect x="229.10" y="813.00" width="48.20" height="48.30" fill="#000" filter="url(#fl14)"/>
<rect x="78.20" y="855.00" width="14.60" height="2.10" fill="#fff"/>
<rect x="191.20" y="829.40" width="19.20" height="19.20" fill="none" stroke="#fff" stroke-width="1.5"/>
<line x1="210.40" y1="829.40" x2="227.50" y2="813.00" stroke="#fff" stroke-width="1.5"/>
<line x1="210.40" y1="848.60" x2="227.50" y2="861.30" stroke="#fff" stroke-width="1.5"/>
<line x1="29.90" y1="812.30" x2="277.80" y2="812.30" stroke="#fff" stroke-width="1.3"/>
<line x1="95.75" y1="763.20" x2="95.75" y2="861.80" stroke="#fff" stroke-width="1.4"/>
<line x1="161.80" y1="763.20" x2="161.80" y2="861.80" stroke="#fff" stroke-width="1.4"/>
<line x1="228.20" y1="763.20" x2="228.20" y2="861.80" stroke="#fff" stroke-width="1.4"/>
<rect x="28.90" y="762.20" width="249.90" height="1.50" fill="#fff"/>
<rect x="28.90" y="861.30" width="249.90" height="1.50" fill="#fff"/>
<rect x="28.90" y="762.20" width="1.50" height="100.60" fill="#fff"/>
<rect x="277.30" y="762.20" width="1.50" height="100.60" fill="#fff"/>
<text x="66.30" y="757.20" font-size="7.3" text-anchor="middle" fill="#3a48ac" stroke="#3a48ac">DAPI</text>
<text x="131.60" y="757.20" font-size="7.3" text-anchor="middle" fill="#22a860" stroke="#22a860">Ki-67</text>
<text x="198.70" y="757.20" font-size="7.3" text-anchor="middle" fill="#e8384a" stroke="#e8384a">Merge</text>
<text x="256.00" y="757.20" font-size="7.3" text-anchor="middle" fill="#e8384a" stroke="#e8384a">Merge</text>
<text x="28.00" y="794.30" font-size="7.4" text-anchor="end" fill="#1c1c1c" stroke="#1c1c1c">Vehicle</text>
<text x="27.90" y="835.00" font-size="7.45" text-anchor="end" fill="#1c1c1c" stroke="#1c1c1c">JTE-607</text>
<text x="32.00" y="870.60" font-size="7.4" fill="#1c1c1c" stroke="#1c1c1c">Scale bar: 75μm</text>
<rect x="30.40" y="893.00" width="64.40" height="48.10" fill="#000" filter="url(#fl23)"/>
<rect x="96.70" y="893.00" width="64.30" height="48.10" fill="#000" filter="url(#fl17)"/>
<rect x="162.60" y="893.00" width="64.70" height="48.10" fill="#000" filter="url(#fl19)"/>
<rect x="229.10" y="893.00" width="48.20" height="48.10" fill="#000" filter="url(#fl21)"/>
<rect x="78.20" y="936.40" width="14.60" height="2.10" fill="#fff"/>
<rect x="173.00" y="917.90" width="19.40" height="19.00" fill="none" stroke="#fff" stroke-width="1.5"/>
<line x1="192.40" y1="917.90" x2="227.50" y2="893.00" stroke="#fff" stroke-width="1.5"/>
<line x1="192.40" y1="936.90" x2="227.50" y2="941.10" stroke="#fff" stroke-width="1.5"/>
<rect x="30.40" y="942.40" width="64.40" height="48.20" fill="#000" filter="url(#fl24)"/>
<rect x="96.70" y="942.40" width="64.30" height="48.20" fill="#000" filter="url(#fl18)"/>
<rect x="162.60" y="942.40" width="64.70" height="48.20" fill="#000" filter="url(#fl20)"/>
<rect x="229.10" y="942.40" width="48.20" height="48.20" fill="#000" filter="url(#fl22)"/>
<rect x="78.20" y="985.60" width="14.60" height="2.10" fill="#fff"/>
<rect x="165.00" y="956.90" width="19.50" height="19.20" fill="none" stroke="#fff" stroke-width="1.5"/>
<line x1="184.50" y1="956.90" x2="227.50" y2="942.40" stroke="#fff" stroke-width="1.5"/>
<line x1="184.50" y1="976.10" x2="227.50" y2="990.60" stroke="#fff" stroke-width="1.5"/>
<line x1="29.90" y1="941.75" x2="277.80" y2="941.75" stroke="#fff" stroke-width="1.3"/>
<line x1="95.75" y1="892.50" x2="95.75" y2="991.10" stroke="#fff" stroke-width="1.4"/>
<line x1="161.80" y1="892.50" x2="161.80" y2="991.10" stroke="#fff" stroke-width="1.4"/>
<line x1="228.20" y1="892.50" x2="228.20" y2="991.10" stroke="#fff" stroke-width="1.4"/>
<rect x="28.90" y="891.50" width="249.90" height="1.50" fill="#fff"/>
<rect x="28.90" y="990.60" width="249.90" height="1.50" fill="#fff"/>
<rect x="28.90" y="891.50" width="1.50" height="100.60" fill="#fff"/>
<rect x="277.30" y="891.50" width="1.50" height="100.60" fill="#fff"/>
<text x="66.30" y="889.40" font-size="7.3" text-anchor="middle" fill="#3a48ac" stroke="#3a48ac">DAPI</text>
<text x="131.60" y="889.40" font-size="7.3" text-anchor="middle" fill="#22a860" stroke="#22a860">TUNEL</text>
<text x="198.70" y="889.40" font-size="7.3" text-anchor="middle" fill="#e8384a" stroke="#e8384a">Merge</text>
<text x="256.00" y="889.40" font-size="7.3" text-anchor="middle" fill="#e8384a" stroke="#e8384a">Merge</text>
<text x="28.00" y="928.80" font-size="7.4" text-anchor="end" fill="#1c1c1c" stroke="#1c1c1c">Vehicle</text>
<text x="27.90" y="969.40" font-size="7.45" text-anchor="end" fill="#1c1c1c" stroke="#1c1c1c">JTE-607</text>
<text x="32.00" y="999.90" font-size="7.4" fill="#1c1c1c" stroke="#1c1c1c">Scale bar: 75μm</text>
</svg>
</body></html>
